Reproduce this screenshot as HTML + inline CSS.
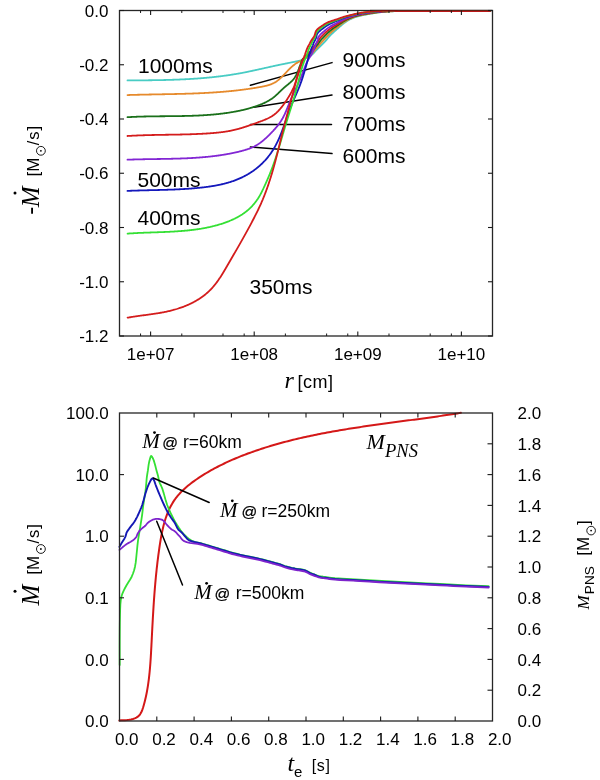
<!DOCTYPE html>
<html><head><meta charset="utf-8"><style>
html,body{margin:0;padding:0;background:#fff;overflow:hidden;width:600px;height:780px;}
svg{display:block;will-change:transform;}
</style></head><body>
<svg width="600" height="780" viewBox="0 0 600 780">
<rect width="600" height="780" fill="#fff"/>
<rect x="119.5" y="10.5" width="373.0" height="325.5" fill="none" stroke="#262626" stroke-width="1.3"/>
<line x1="250.40" y1="85.30" x2="332.00" y2="62.60" stroke="#000" stroke-width="1.5" stroke-linecap="round"/>
<line x1="253.30" y1="107.30" x2="332.00" y2="95.00" stroke="#000" stroke-width="1.5" stroke-linecap="round"/>
<line x1="250.40" y1="124.50" x2="331.50" y2="124.50" stroke="#000" stroke-width="1.5" stroke-linecap="round"/>
<line x1="250.40" y1="147.00" x2="332.00" y2="153.60" stroke="#000" stroke-width="1.5" stroke-linecap="round"/>
<polyline points="127.49,80.43 127.93,80.42 128.37,80.42 128.81,80.42 129.25,80.42 129.68,80.41 130.12,80.41 130.56,80.41 131.00,80.41 131.43,80.40 131.87,80.40 132.31,80.40 132.75,80.40 133.19,80.39 133.62,80.39 134.06,80.39 134.50,80.39 134.94,80.38 135.38,80.38 135.81,80.38 136.25,80.38 136.69,80.37 137.13,80.37 137.57,80.37 138.00,80.36 138.44,80.36 138.88,80.36 139.32,80.36 139.76,80.35 140.20,80.35 140.63,80.35 141.07,80.34 141.51,80.34 141.95,80.34 142.39,80.33 142.83,80.33 143.26,80.32 143.70,80.32 144.14,80.32 144.58,80.31 145.02,80.31 145.45,80.31 145.89,80.30 146.33,80.30 146.77,80.29 147.21,80.29 147.65,80.28 148.09,80.28 148.52,80.27 148.96,80.27 149.40,80.26 149.84,80.26 150.28,80.25 150.72,80.25 151.15,80.24 151.59,80.24 152.03,80.23 152.47,80.22 152.91,80.22 153.35,80.21 153.78,80.21 154.22,80.20 154.66,80.19 155.10,80.19 155.54,80.18 155.98,80.17 156.42,80.17 156.85,80.16 157.29,80.15 157.73,80.14 158.17,80.14 158.61,80.13 159.05,80.12 159.48,80.11 159.92,80.10 160.36,80.09 160.80,80.08 161.24,80.08 161.68,80.07 162.11,80.06 162.55,80.05 162.99,80.04 163.43,80.03 163.87,80.02 164.31,80.01 164.74,80.00 165.18,79.99 165.62,79.98 166.06,79.97 166.50,79.95 166.94,79.94 167.37,79.93 167.81,79.92 168.25,79.91 168.69,79.89 169.13,79.88 169.57,79.87 170.00,79.86 170.44,79.84 170.88,79.83 171.32,79.82 171.76,79.80 172.20,79.79 172.63,79.77 173.07,79.76 173.51,79.75 173.95,79.73 174.39,79.71 174.82,79.70 175.26,79.68 175.70,79.67 176.14,79.65 176.58,79.63 177.01,79.62 177.45,79.60 177.89,79.58 178.33,79.57 178.76,79.55 179.20,79.53 179.64,79.51 180.08,79.49 180.52,79.47 180.95,79.46 181.39,79.44 181.83,79.42 182.27,79.40 182.70,79.38 183.14,79.36 183.58,79.33 184.02,79.31 184.45,79.29 184.89,79.27 185.33,79.25 185.77,79.23 186.20,79.20 186.64,79.18 187.08,79.16 187.52,79.13 187.95,79.11 188.39,79.08 188.83,79.06 189.27,79.03 189.70,79.01 190.14,78.98 190.58,78.96 191.01,78.93 191.45,78.91 191.89,78.88 192.33,78.85 192.76,78.82 193.20,78.80 193.64,78.77 194.07,78.74 194.51,78.71 194.95,78.68 195.38,78.65 195.82,78.62 196.26,78.59 196.69,78.56 197.13,78.53 197.57,78.50 198.00,78.46 198.44,78.43 198.88,78.40 199.31,78.37 199.75,78.33 200.19,78.30 200.62,78.27 201.06,78.23 201.49,78.20 201.93,78.16 202.37,78.13 202.80,78.09 203.24,78.05 203.67,78.02 204.11,77.98 204.55,77.94 204.98,77.90 205.42,77.86 205.85,77.83 206.29,77.79 206.73,77.75 207.16,77.71 207.60,77.67 208.03,77.62 208.47,77.58 208.90,77.54 209.34,77.50 209.77,77.46 210.21,77.41 210.64,77.37 211.08,77.33 211.51,77.28 211.95,77.24 212.38,77.19 212.82,77.15 213.25,77.10 213.69,77.05 214.12,77.01 214.56,76.96 214.99,76.91 215.43,76.86 215.86,76.81 216.30,76.76 216.73,76.71 217.17,76.66 217.60,76.61 218.03,76.56 218.47,76.51 218.90,76.46 219.34,76.40 219.77,76.35 220.21,76.30 220.64,76.24 221.07,76.19 221.51,76.13 221.94,76.08 222.37,76.02 222.81,75.96 223.24,75.91 223.68,75.85 224.11,75.79 224.54,75.73 224.98,75.67 225.41,75.61 225.84,75.55 226.27,75.49 226.71,75.43 227.14,75.37 227.57,75.31 228.01,75.24 228.44,75.18 228.87,75.12 229.31,75.05 229.74,74.99 230.17,74.92 230.60,74.85 231.04,74.79 231.47,74.72 231.90,74.65 232.33,74.58 232.76,74.51 233.20,74.45 233.63,74.38 234.06,74.30 234.49,74.23 234.92,74.16 235.36,74.09 235.79,74.02 236.22,73.94 236.65,73.87 237.08,73.79 237.51,73.72 237.94,73.64 238.37,73.57 238.81,73.49 239.24,73.41 239.67,73.34 240.10,73.26 240.53,73.18 240.96,73.10 241.39,73.02 241.82,72.94 242.25,72.85 242.68,72.77 243.11,72.69 243.54,72.61 243.97,72.52 244.40,72.44 244.83,72.35 245.26,72.27 245.69,72.18 246.12,72.10 246.55,72.01 246.98,71.92 247.41,71.83 247.84,71.75 248.27,71.66 248.70,71.57 249.13,71.48 249.56,71.39 249.99,71.30 250.42,71.21 250.85,71.12 251.28,71.03 251.71,70.93 252.13,70.84 252.56,70.75 252.99,70.66 253.42,70.56 253.85,70.47 254.28,70.38 254.71,70.29 255.14,70.19 255.57,70.10 255.99,70.00 256.42,69.91 256.85,69.81 257.28,69.72 257.71,69.62 258.14,69.53 258.57,69.43 259.00,69.34 259.42,69.24 259.85,69.15 260.28,69.05 260.71,68.96 261.14,68.86 261.57,68.76 261.99,68.67 262.42,68.57 262.85,68.48 263.28,68.38 263.71,68.28 264.14,68.19 264.56,68.09 264.99,67.99 265.42,67.90 265.85,67.80 266.28,67.71 266.71,67.61 267.13,67.51 267.56,67.42 267.99,67.32 268.42,67.23 268.85,67.13 269.28,67.04 269.70,66.94 270.13,66.85 270.56,66.75 270.99,66.66 271.42,66.56 271.85,66.47 272.27,66.37 272.70,66.28 273.13,66.19 273.56,66.09 273.99,66.00 274.42,65.91 274.84,65.82 275.27,65.72 275.70,65.63 276.13,65.54 276.56,65.45 276.99,65.36 277.42,65.27 277.84,65.18 278.27,65.09 278.70,65.00 279.13,64.91 279.56,64.82 279.99,64.73 280.42,64.64 280.85,64.55 281.27,64.46 281.70,64.38 282.13,64.29 282.56,64.20 282.99,64.11 283.42,64.03 283.85,63.94 284.28,63.85 284.71,63.77 285.13,63.68 285.56,63.59 285.99,63.50 286.42,63.42 286.85,63.33 287.28,63.25 287.71,63.16 288.13,63.07 288.56,62.99 288.99,62.90 289.42,62.81 289.85,62.73 290.28,62.64 290.70,62.55 291.13,62.47 291.56,62.38 291.99,62.29 292.42,62.20 292.85,62.12 293.27,62.03 293.70,61.94 294.13,61.85 294.56,61.77 294.98,61.68 295.41,61.59 295.84,61.50 296.27,61.41 296.69,61.32 297.12,61.23 297.55,61.14 297.98,61.05 298.40,60.96 298.83,60.87 299.26,60.78 299.68,60.69 300.11,60.60 300.54,60.51 301.50,59.90 302.51,59.50 303.51,59.10 304.51,58.69 305.50,58.26 306.50,57.84 307.50,57.42 308.49,56.99 309.46,56.51 310.40,55.97 311.29,55.35 312.11,54.64 312.89,53.88 313.63,53.08 314.36,52.28 315.09,51.47 315.84,50.69 316.61,49.92 317.38,49.15 318.14,48.38 318.91,47.61 319.68,46.84 320.45,46.07 321.22,45.30 321.99,44.54 322.73,43.82 323.46,43.10 324.18,42.36 324.89,41.62 325.58,40.86 326.25,40.08 326.92,39.30 327.58,38.51 328.24,37.73 328.91,36.95 329.60,36.19 330.31,35.44 331.03,34.70 331.75,33.97 332.48,33.25 333.22,32.54 333.97,31.83 334.72,31.14 335.49,30.46 336.27,29.78 337.05,29.12 337.83,28.45 338.61,27.77 339.37,27.09 340.14,26.41 340.92,25.73 341.70,25.06 342.49,24.41 343.30,23.77 344.12,23.15 344.94,22.54 345.78,21.94 346.63,21.37 347.50,20.81 348.38,20.28 349.27,19.78 350.18,19.30 351.11,18.85 352.04,18.42 352.98,18.01 353.93,17.62 354.90,17.26 355.87,16.93 356.85,16.63 357.84,16.35 358.83,16.09 359.83,15.84 360.83,15.61 361.84,15.39 362.85,15.18 363.85,14.98 364.86,14.79 365.87,14.60 366.88,14.41 367.89,14.22 368.90,14.04 369.92,13.85 370.93,13.68 371.94,13.50 372.95,13.33 373.97,13.16 374.98,13.00 376.00,12.85 377.02,12.70 378.03,12.55 379.05,12.42 380.07,12.29 381.09,12.17 382.11,12.06 383.14,11.95 384.16,11.85 385.18,11.76 386.21,11.67 387.23,11.59 388.26,11.52 389.28,11.45 390.31,11.39 391.34,11.33 392.36,11.29 393.39,11.25 394.42,11.22 395.44,11.21 396.47,11.19 397.50,11.19 398.53,11.19 399.56,11.19 400.58,11.20 401.61,11.20 402.64,11.20 403.67,11.20 404.69,11.20 405.72,11.19 406.75,11.19 407.78,11.18 408.81,11.17 409.83,11.16 410.86,11.15 411.89,11.14 412.92,11.14 413.94,11.13 414.97,11.12 416.00,11.12 417.03,11.11 418.06,11.11 419.08,11.10 420.11,11.10 421.14,11.10 422.17,11.10 423.19,11.09 424.22,11.09 425.25,11.09 426.28,11.09 427.31,11.09 428.33,11.08 429.36,11.08 430.39,11.08 431.42,11.08 432.44,11.08 433.47,11.08 434.50,11.08 435.53,11.08 436.56,11.08 437.58,11.08 438.61,11.08 439.64,11.08 440.67,11.08 441.69,11.08 442.72,11.08 443.75,11.08 444.78,11.08 445.81,11.08 446.83,11.08 447.86,11.08 448.89,11.08 449.92,11.08 450.94,11.08 451.97,11.08 453.00,11.08 454.03,11.08 455.06,11.08 456.08,11.08 457.11,11.08 458.14,11.09 459.17,11.09 460.19,11.09 461.22,11.09 462.25,11.09 463.28,11.09 464.31,11.09 465.33,11.09 466.36,11.09 467.39,11.09 468.42,11.09 469.44,11.09 470.47,11.09 471.50,11.09 472.53,11.09 473.56,11.09 474.58,11.09 475.61,11.10 476.64,11.10 477.67,11.10 478.69,11.10 479.72,11.10 480.75,11.10 481.78,11.10 482.81,11.10 483.83,11.10 484.86,11.10 485.89,11.10 486.92,11.10 487.94,11.10 488.97,11.10 490.00,11.10" fill="none" stroke="#48ccc4" stroke-width="1.8" stroke-linejoin="round" stroke-linecap="round" />
<polyline points="127.51,95.06 127.97,95.04 128.43,95.03 128.88,95.02 129.34,95.00 129.80,94.99 130.26,94.97 130.71,94.96 131.17,94.95 131.63,94.93 132.09,94.92 132.55,94.91 133.00,94.89 133.46,94.88 133.92,94.87 134.38,94.85 134.84,94.84 135.29,94.83 135.75,94.82 136.21,94.81 136.67,94.79 137.13,94.78 137.58,94.77 138.04,94.76 138.50,94.75 138.96,94.74 139.42,94.73 139.88,94.72 140.33,94.71 140.79,94.69 141.25,94.68 141.71,94.67 142.17,94.66 142.63,94.65 143.09,94.64 143.54,94.63 144.00,94.62 144.46,94.61 144.92,94.60 145.38,94.59 145.84,94.59 146.30,94.58 146.76,94.57 147.21,94.56 147.67,94.55 148.13,94.54 148.59,94.53 149.05,94.52 149.51,94.51 149.97,94.50 150.43,94.49 150.89,94.49 151.34,94.48 151.80,94.47 152.26,94.46 152.72,94.45 153.18,94.44 153.64,94.43 154.10,94.42 154.56,94.42 155.02,94.41 155.48,94.40 155.94,94.39 156.39,94.38 156.85,94.37 157.31,94.37 157.77,94.36 158.23,94.35 158.69,94.34 159.15,94.33 159.61,94.32 160.07,94.32 160.53,94.31 160.99,94.30 161.45,94.29 161.91,94.28 162.37,94.27 162.82,94.26 163.28,94.26 163.74,94.25 164.20,94.24 164.66,94.23 165.12,94.22 165.58,94.21 166.04,94.20 166.50,94.19 166.96,94.19 167.42,94.18 167.88,94.17 168.34,94.16 168.80,94.15 169.26,94.14 169.72,94.13 170.18,94.12 170.64,94.11 171.10,94.10 171.55,94.09 172.01,94.08 172.47,94.07 172.93,94.06 173.39,94.05 173.85,94.04 174.31,94.03 174.77,94.02 175.23,94.01 175.69,94.00 176.15,93.99 176.61,93.98 177.07,93.97 177.53,93.96 177.99,93.95 178.45,93.94 178.91,93.93 179.37,93.91 179.83,93.90 180.29,93.89 180.74,93.88 181.20,93.87 181.66,93.85 182.12,93.84 182.58,93.83 183.04,93.82 183.50,93.80 183.96,93.79 184.42,93.78 184.88,93.76 185.34,93.75 185.80,93.74 186.26,93.72 186.72,93.71 187.18,93.70 187.64,93.68 188.10,93.67 188.56,93.65 189.01,93.64 189.47,93.62 189.93,93.61 190.39,93.59 190.85,93.57 191.31,93.56 191.77,93.54 192.23,93.53 192.69,93.51 193.15,93.49 193.61,93.48 194.07,93.46 194.53,93.44 194.99,93.42 195.44,93.40 195.90,93.39 196.36,93.37 196.82,93.35 197.28,93.33 197.74,93.31 198.20,93.29 198.66,93.27 199.12,93.25 199.58,93.23 200.04,93.21 200.49,93.19 200.95,93.17 201.41,93.15 201.87,93.13 202.33,93.10 202.79,93.08 203.25,93.06 203.71,93.04 204.17,93.01 204.62,92.99 205.08,92.97 205.54,92.94 206.00,92.92 206.46,92.89 206.92,92.87 207.38,92.84 207.84,92.82 208.29,92.79 208.75,92.76 209.21,92.74 209.67,92.71 210.13,92.68 210.59,92.66 211.05,92.63 211.50,92.60 211.96,92.57 212.42,92.54 212.88,92.51 213.34,92.48 213.80,92.45 214.25,92.42 214.71,92.39 215.17,92.36 215.63,92.33 216.09,92.30 216.54,92.27 217.00,92.23 217.46,92.20 217.92,92.17 218.38,92.13 218.83,92.10 219.29,92.07 219.75,92.03 220.21,92.00 220.67,91.96 221.12,91.92 221.58,91.89 222.04,91.85 222.50,91.81 222.95,91.78 223.41,91.74 223.87,91.70 224.33,91.66 224.78,91.62 225.24,91.58 225.70,91.54 226.16,91.50 226.61,91.46 227.07,91.42 227.53,91.38 227.99,91.33 228.44,91.29 228.90,91.25 229.36,91.20 229.81,91.16 230.27,91.11 230.73,91.07 231.18,91.02 231.64,90.98 232.10,90.93 232.55,90.88 233.01,90.83 233.47,90.79 233.92,90.74 234.38,90.69 234.84,90.64 235.29,90.59 235.75,90.54 236.21,90.49 236.66,90.44 237.12,90.38 237.58,90.33 238.03,90.28 238.49,90.23 238.94,90.17 239.40,90.12 239.86,90.06 240.31,90.01 240.77,89.95 241.22,89.89 241.68,89.84 242.14,89.78 242.59,89.72 243.05,89.66 243.50,89.60 243.96,89.54 244.41,89.48 244.87,89.42 245.32,89.36 245.78,89.30 246.23,89.23 246.69,89.17 247.15,89.10 247.60,89.04 248.06,88.98 248.51,88.91 248.97,88.84 249.42,88.78 249.87,88.71 250.33,88.64 250.78,88.57 251.24,88.50 251.69,88.43 252.15,88.36 252.60,88.29 253.06,88.22 253.51,88.15 253.97,88.07 254.42,88.00 254.87,87.93 255.33,87.85 255.78,87.78 256.24,87.70 256.69,87.62 257.14,87.55 257.60,87.47 258.05,87.39 258.50,87.31 258.96,87.23 259.41,87.15 259.86,87.07 260.32,86.99 260.77,86.90 261.22,86.82 261.68,86.74 262.13,86.65 262.58,86.56 263.03,86.47 263.48,86.38 263.93,86.29 264.38,86.19 264.83,86.09 265.27,85.99 265.72,85.88 266.16,85.78 266.60,85.66 267.04,85.55 267.48,85.43 267.92,85.31 268.35,85.18 268.78,85.05 269.21,84.91 269.64,84.77 270.07,84.62 270.49,84.47 270.91,84.31 271.33,84.15 271.74,83.98 272.15,83.80 272.56,83.62 272.97,83.43 273.37,83.24 273.77,83.04 274.16,82.83 274.56,82.61 274.95,82.39 275.33,82.15 275.71,81.92 276.09,81.67 276.46,81.42 276.83,81.16 277.20,80.89 277.57,80.62 277.93,80.35 278.29,80.06 278.64,79.77 279.00,79.48 279.35,79.18 279.70,78.88 280.04,78.58 280.39,78.27 280.73,77.95 281.07,77.63 281.41,77.31 281.74,76.99 282.08,76.66 282.41,76.33 282.74,76.00 283.07,75.67 283.40,75.33 283.73,74.99 284.05,74.65 284.38,74.31 284.70,73.97 285.02,73.63 285.35,73.29 285.67,72.95 285.99,72.61 286.31,72.27 286.63,71.93 286.95,71.59 287.27,71.25 287.59,70.91 287.92,70.57 288.24,70.24 288.56,69.90 288.89,69.57 289.21,69.24 289.54,68.91 289.87,68.59 290.20,68.26 290.53,67.94 290.86,67.63 291.20,67.31 291.53,67.00 291.87,66.69 292.22,66.39 292.56,66.09 292.91,65.79 293.26,65.50 293.61,65.22 293.97,64.93 294.33,64.66 294.69,64.39 295.06,64.12 295.43,63.86 295.81,63.60 296.18,63.35 296.57,63.11 296.96,62.87 297.35,62.64 297.75,62.42 298.15,62.20 298.55,61.99 298.97,61.78 299.39,61.59 299.81,61.40 300.24,61.22 300.67,61.05 301.11,60.88 301.56,60.73 302.39,60.08 303.28,59.57 304.18,59.05 305.06,58.52 305.95,57.98 306.84,57.44 307.73,56.91 308.62,56.37 309.49,55.79 310.35,55.16 311.17,54.46 311.93,53.69 312.65,52.88 313.34,52.03 314.01,51.16 314.69,50.31 315.40,49.48 316.12,48.66 316.84,47.84 317.57,47.02 318.29,46.20 319.00,45.37 319.69,44.54 320.38,43.71 321.06,42.88 321.74,42.12 322.43,41.37 323.14,40.62 323.85,39.88 324.56,39.13 325.25,38.37 325.94,37.61 326.62,36.85 327.31,36.09 328.02,35.35 328.73,34.61 329.46,33.89 330.20,33.18 330.94,32.48 331.70,31.79 332.47,31.11 333.24,30.45 334.03,29.80 334.83,29.16 335.63,28.54 336.44,27.92 337.25,27.30 338.06,26.68 338.86,26.05 339.66,25.41 340.46,24.78 341.27,24.16 342.08,23.55 342.92,22.96 343.76,22.37 344.60,21.80 345.46,21.24 346.33,20.71 347.22,20.19 348.11,19.69 349.02,19.22 349.95,18.77 350.88,18.35 351.82,17.94 352.77,17.56 353.74,17.19 354.71,16.85 355.68,16.54 356.67,16.24 357.66,15.97 358.66,15.72 359.66,15.48 360.66,15.26 361.67,15.05 362.68,14.84 363.69,14.65 364.70,14.46 365.71,14.27 366.73,14.09 367.74,13.92 368.75,13.74 369.77,13.57 370.78,13.41 371.80,13.24 372.81,13.09 373.83,12.93 374.85,12.78 375.87,12.64 376.89,12.50 377.90,12.37 378.93,12.25 379.95,12.13 380.97,12.02 381.99,11.91 383.02,11.81 384.04,11.72 385.07,11.64 386.09,11.56 387.12,11.48 388.15,11.42 389.17,11.36 390.20,11.31 391.23,11.26 392.26,11.23 393.28,11.20 394.31,11.18 395.34,11.17 396.37,11.17 397.40,11.17 398.43,11.17 399.46,11.18 400.49,11.18 401.51,11.19 402.54,11.19 403.57,11.19 404.60,11.19 405.63,11.19 406.66,11.18 407.69,11.17 408.72,11.16 409.75,11.16 410.77,11.15 411.80,11.14 412.83,11.13 413.86,11.13 414.89,11.12 415.92,11.12 416.95,11.11 417.98,11.11 419.01,11.10 420.03,11.10 421.06,11.10 422.09,11.10 423.12,11.09 424.15,11.09 425.18,11.09 426.21,11.09 427.24,11.09 428.27,11.09 429.29,11.09 430.32,11.08 431.35,11.08 432.38,11.08 433.41,11.08 434.44,11.08 435.47,11.08 436.50,11.08 437.53,11.08 438.55,11.08 439.58,11.08 440.61,11.08 441.64,11.08 442.67,11.08 443.70,11.08 444.73,11.08 445.76,11.08 446.79,11.08 447.81,11.08 448.84,11.08 449.87,11.08 450.90,11.08 451.93,11.08 452.96,11.08 453.99,11.09 455.02,11.09 456.05,11.09 457.07,11.09 458.10,11.09 459.13,11.09 460.16,11.09 461.19,11.09 462.22,11.09 463.25,11.09 464.28,11.09 465.31,11.09 466.34,11.09 467.36,11.09 468.39,11.09 469.42,11.09 470.45,11.09 471.48,11.09 472.51,11.09 473.54,11.09 474.57,11.10 475.60,11.10 476.62,11.10 477.65,11.10 478.68,11.10 479.71,11.10 480.74,11.10 481.77,11.10 482.80,11.10 483.83,11.10 484.86,11.10 485.88,11.10 486.91,11.10 487.94,11.10 488.97,11.10 490.00,11.10" fill="none" stroke="#e68a2c" stroke-width="1.8" stroke-linejoin="round" stroke-linecap="round" />
<polyline points="127.50,117.19 127.99,117.16 128.49,117.14 128.99,117.11 129.49,117.08 129.99,117.05 130.48,117.03 130.98,117.00 131.48,116.98 131.98,116.95 132.48,116.93 132.97,116.90 133.47,116.88 133.97,116.86 134.47,116.84 134.97,116.82 135.46,116.80 135.96,116.78 136.46,116.76 136.96,116.74 137.46,116.72 137.96,116.70 138.45,116.68 138.95,116.67 139.45,116.65 139.95,116.64 140.45,116.62 140.95,116.60 141.44,116.59 141.94,116.58 142.44,116.56 142.94,116.55 143.44,116.54 143.94,116.52 144.44,116.51 144.93,116.50 145.43,116.49 145.93,116.48 146.43,116.47 146.93,116.45 147.43,116.44 147.93,116.43 148.42,116.43 148.92,116.42 149.42,116.41 149.92,116.40 150.42,116.39 150.92,116.38 151.42,116.37 151.92,116.37 152.41,116.36 152.91,116.35 153.41,116.35 153.91,116.34 154.41,116.33 154.91,116.33 155.41,116.32 155.91,116.31 156.41,116.31 156.90,116.30 157.40,116.30 157.90,116.29 158.40,116.29 158.90,116.28 159.40,116.28 159.90,116.27 160.40,116.27 160.89,116.26 161.39,116.26 161.89,116.25 162.39,116.25 162.89,116.24 163.39,116.24 163.89,116.24 164.39,116.23 164.89,116.23 165.38,116.22 165.88,116.22 166.38,116.21 166.88,116.21 167.38,116.21 167.88,116.20 168.38,116.20 168.88,116.19 169.37,116.19 169.87,116.18 170.37,116.18 170.87,116.17 171.37,116.17 171.87,116.16 172.37,116.16 172.87,116.15 173.36,116.15 173.86,116.14 174.36,116.14 174.86,116.13 175.36,116.13 175.86,116.12 176.36,116.11 176.85,116.11 177.35,116.10 177.85,116.09 178.35,116.09 178.85,116.08 179.35,116.07 179.85,116.06 180.34,116.06 180.84,116.05 181.34,116.04 181.84,116.03 182.34,116.02 182.84,116.01 183.33,116.00 183.83,115.99 184.33,115.98 184.83,115.97 185.33,115.96 185.82,115.95 186.32,115.94 186.82,115.93 187.32,115.91 187.82,115.90 188.32,115.89 188.81,115.87 189.31,115.86 189.81,115.85 190.31,115.83 190.80,115.81 191.30,115.80 191.80,115.78 192.30,115.77 192.80,115.75 193.29,115.73 193.79,115.71 194.29,115.69 194.79,115.68 195.28,115.66 195.78,115.64 196.28,115.61 196.78,115.59 197.27,115.57 197.77,115.55 198.27,115.53 198.77,115.50 199.26,115.48 199.76,115.45 200.26,115.43 200.75,115.40 201.25,115.38 201.75,115.35 202.25,115.32 202.74,115.29 203.24,115.26 203.74,115.23 204.23,115.20 204.73,115.17 205.23,115.14 205.72,115.11 206.22,115.07 206.72,115.04 207.21,115.01 207.71,114.97 208.20,114.93 208.70,114.90 209.20,114.86 209.69,114.82 210.19,114.78 210.69,114.74 211.18,114.70 211.68,114.66 212.17,114.62 212.67,114.57 213.17,114.53 213.66,114.48 214.16,114.44 214.65,114.39 215.15,114.34 215.64,114.30 216.14,114.25 216.63,114.20 217.13,114.15 217.63,114.09 218.12,114.04 218.62,113.99 219.11,113.93 219.61,113.88 220.10,113.82 220.60,113.76 221.09,113.70 221.59,113.64 222.08,113.58 222.58,113.52 223.07,113.46 223.56,113.39 224.06,113.33 224.55,113.26 225.05,113.20 225.54,113.13 226.04,113.06 226.53,112.99 227.02,112.92 227.52,112.85 228.01,112.77 228.51,112.70 229.00,112.62 229.49,112.55 229.99,112.47 230.48,112.39 230.97,112.31 231.47,112.23 231.96,112.15 232.45,112.06 232.95,111.98 233.44,111.89 233.93,111.81 234.42,111.72 234.92,111.63 235.41,111.54 235.90,111.45 236.39,111.35 236.88,111.26 237.38,111.16 237.87,111.06 238.36,110.96 238.85,110.86 239.34,110.76 239.83,110.66 240.32,110.55 240.81,110.45 241.30,110.34 241.78,110.23 242.27,110.12 242.76,110.01 243.25,109.89 243.73,109.78 244.22,109.66 244.71,109.54 245.19,109.42 245.68,109.30 246.16,109.17 246.64,109.05 247.13,108.92 247.61,108.79 248.09,108.66 248.57,108.53 249.05,108.40 249.53,108.26 250.01,108.12 250.49,107.98 250.97,107.84 251.45,107.70 251.93,107.55 252.40,107.41 252.88,107.26 253.35,107.11 253.83,106.95 254.30,106.80 254.77,106.64 255.24,106.48 255.72,106.32 256.19,106.16 256.66,106.00 257.12,105.83 257.59,105.66 258.06,105.49 258.52,105.32 258.99,105.14 259.45,104.97 259.92,104.79 260.38,104.61 260.84,104.42 261.30,104.24 261.76,104.05 262.22,103.86 262.67,103.66 263.13,103.47 263.58,103.27 264.03,103.06 264.48,102.86 264.93,102.65 265.38,102.44 265.82,102.22 266.26,102.00 266.70,101.78 267.14,101.55 267.57,101.32 268.00,101.08 268.43,100.84 268.86,100.59 269.28,100.35 269.70,100.09 270.12,99.83 270.53,99.57 270.94,99.30 271.35,99.03 271.76,98.75 272.16,98.46 272.55,98.17 272.95,97.88 273.34,97.58 273.72,97.27 274.11,96.96 274.49,96.65 274.86,96.33 275.24,96.01 275.61,95.68 275.98,95.35 276.35,95.02 276.72,94.68 277.09,94.34 277.45,94.00 277.82,93.66 278.18,93.31 278.54,92.97 278.90,92.62 279.26,92.27 279.62,91.92 279.98,91.57 280.35,91.22 280.71,90.87 281.07,90.52 281.43,90.17 281.80,89.82 282.16,89.47 282.53,89.13 282.90,88.78 283.27,88.44 283.64,88.10 284.02,87.76 284.39,87.43 284.77,87.09 285.16,86.76 285.54,86.44 285.93,86.12 286.32,85.79 286.71,85.48 287.10,85.16 287.49,84.84 287.89,84.52 288.28,84.21 288.66,83.89 289.05,83.57 289.43,83.25 289.81,82.93 290.19,82.61 290.56,82.28 290.92,81.95 291.28,81.61 291.64,81.27 291.98,80.93 292.32,80.58 292.65,80.22 292.97,79.86 293.29,79.49 293.59,79.11 293.88,78.72 294.17,78.33 294.44,77.94 294.71,77.53 294.97,77.12 295.23,76.71 295.47,76.29 295.71,75.86 295.95,75.44 296.17,75.00 296.40,74.56 296.61,74.12 296.82,73.67 297.03,73.22 297.23,72.77 297.43,72.31 297.62,71.85 297.81,71.39 298.00,70.93 298.18,70.46 298.36,70.00 298.54,69.53 298.72,69.06 298.89,68.58 299.07,68.11 299.24,67.64 299.41,67.17 299.59,66.69 299.76,66.22 299.93,65.75 300.11,65.28 300.28,64.81 300.46,64.34 300.64,63.87 300.82,63.41 301.00,62.94 301.18,62.48 301.37,62.02 301.56,61.57 301.76,61.12 301.95,60.67 302.16,60.22 302.36,59.78 302.58,59.34 302.80,58.91 303.75,58.43 304.51,57.87 305.26,57.30 306.02,56.72 306.77,56.14 307.53,55.56 308.29,54.99 309.05,54.40 309.80,53.79 310.55,53.14 311.28,52.44 311.97,51.68 312.60,50.88 313.21,50.05 313.80,49.20 314.41,48.37 315.06,47.57 315.72,46.77 316.38,45.98 317.03,45.18 317.69,44.39 318.32,43.58 318.92,42.75 319.49,41.92 320.07,41.09 320.68,40.30 321.34,39.52 322.03,38.76 322.75,38.01 323.46,37.27 324.17,36.53 324.88,35.79 325.60,35.07 326.32,34.34 327.05,33.63 327.79,32.92 328.55,32.23 329.31,31.54 330.08,30.87 330.86,30.22 331.66,29.58 332.47,28.96 333.29,28.37 334.12,27.78 334.95,27.21 335.79,26.64 336.63,26.08 337.47,25.50 338.30,24.93 339.13,24.35 339.96,23.77 340.80,23.20 341.65,22.63 342.51,22.08 343.37,21.54 344.24,21.01 345.12,20.50 346.01,20.00 346.92,19.52 347.83,19.06 348.76,18.63 349.69,18.21 350.64,17.81 351.59,17.43 352.55,17.07 353.52,16.73 354.50,16.41 355.48,16.11 356.47,15.83 357.47,15.57 358.47,15.33 359.47,15.10 360.48,14.88 361.49,14.68 362.50,14.48 363.51,14.29 364.53,14.11 365.54,13.93 366.56,13.76 367.57,13.59 368.59,13.43 369.61,13.27 370.62,13.12 371.64,12.97 372.66,12.82 373.68,12.68 374.70,12.55 375.72,12.42 376.74,12.29 377.77,12.17 378.79,12.06 379.81,11.95 380.84,11.85 381.86,11.75 382.89,11.66 383.92,11.58 384.94,11.50 385.97,11.43 387.00,11.37 388.03,11.31 389.05,11.26 390.08,11.22 391.11,11.19 392.14,11.16 393.17,11.14 394.20,11.13 395.23,11.13 396.26,11.14 397.29,11.14 398.32,11.15 399.35,11.16 400.38,11.17 401.41,11.17 402.44,11.18 403.47,11.18 404.50,11.18 405.53,11.18 406.56,11.17 407.59,11.16 408.62,11.16 409.65,11.15 410.68,11.14 411.71,11.14 412.74,11.13 413.77,11.12 414.80,11.12 415.83,11.11 416.86,11.11 417.89,11.11 418.92,11.10 419.95,11.10 420.98,11.10 422.01,11.10 423.04,11.10 424.07,11.09 425.10,11.09 426.13,11.09 427.16,11.09 428.19,11.09 429.22,11.09 430.25,11.09 431.28,11.09 432.31,11.09 433.34,11.09 434.37,11.09 435.40,11.09 436.43,11.09 437.46,11.09 438.49,11.08 439.52,11.08 440.55,11.08 441.58,11.08 442.61,11.09 443.65,11.09 444.68,11.09 445.71,11.09 446.74,11.09 447.77,11.09 448.80,11.09 449.83,11.09 450.86,11.09 451.89,11.09 452.92,11.09 453.95,11.09 454.98,11.09 456.01,11.09 457.04,11.09 458.07,11.09 459.10,11.09 460.13,11.09 461.16,11.09 462.19,11.09 463.22,11.09 464.25,11.09 465.28,11.09 466.31,11.09 467.34,11.09 468.37,11.09 469.40,11.09 470.43,11.09 471.46,11.10 472.49,11.10 473.52,11.10 474.55,11.10 475.58,11.10 476.61,11.10 477.64,11.10 478.67,11.10 479.70,11.10 480.73,11.10 481.76,11.10 482.79,11.10 483.82,11.10 484.85,11.10 485.88,11.10 486.91,11.10 487.94,11.10 488.97,11.10 490.00,11.10" fill="none" stroke="#1a701a" stroke-width="1.8" stroke-linejoin="round" stroke-linecap="round" />
<polyline points="127.50,136.00 128.04,135.97 128.59,135.94 129.13,135.90 129.68,135.87 130.22,135.84 130.77,135.81 131.31,135.78 131.86,135.75 132.40,135.72 132.95,135.69 133.49,135.66 134.04,135.64 134.58,135.61 135.13,135.58 135.67,135.56 136.22,135.54 136.76,135.51 137.31,135.49 137.85,135.46 138.40,135.44 138.94,135.42 139.49,135.40 140.03,135.38 140.58,135.36 141.12,135.34 141.67,135.32 142.21,135.30 142.76,135.28 143.30,135.26 143.85,135.24 144.39,135.23 144.94,135.21 145.48,135.19 146.03,135.18 146.57,135.16 147.12,135.15 147.66,135.13 148.20,135.12 148.75,135.10 149.29,135.09 149.84,135.07 150.38,135.06 150.93,135.05 151.47,135.04 152.02,135.02 152.56,135.01 153.11,135.00 153.66,134.99 154.20,134.98 154.75,134.96 155.29,134.95 155.84,134.94 156.38,134.93 156.93,134.92 157.47,134.91 158.02,134.90 158.56,134.89 159.11,134.88 159.65,134.87 160.20,134.86 160.74,134.85 161.29,134.84 161.83,134.83 162.38,134.83 162.92,134.82 163.47,134.81 164.01,134.80 164.56,134.79 165.10,134.78 165.65,134.77 166.19,134.76 166.74,134.76 167.28,134.75 167.83,134.74 168.37,134.73 168.92,134.72 169.46,134.71 170.01,134.70 170.55,134.70 171.10,134.69 171.64,134.68 172.19,134.67 172.73,134.66 173.28,134.65 173.82,134.64 174.37,134.63 174.91,134.62 175.46,134.61 176.00,134.60 176.55,134.59 177.09,134.58 177.64,134.57 178.18,134.56 178.73,134.55 179.27,134.54 179.82,134.53 180.36,134.52 180.91,134.51 181.45,134.49 182.00,134.48 182.54,134.47 183.09,134.46 183.63,134.44 184.18,134.43 184.72,134.42 185.27,134.40 185.81,134.39 186.36,134.37 186.90,134.36 187.45,134.34 187.99,134.33 188.54,134.31 189.08,134.30 189.63,134.28 190.17,134.26 190.72,134.24 191.26,134.23 191.81,134.21 192.35,134.19 192.90,134.17 193.44,134.15 193.99,134.13 194.53,134.11 195.08,134.09 195.62,134.07 196.17,134.04 196.71,134.02 197.26,134.00 197.80,133.97 198.35,133.95 198.89,133.92 199.44,133.90 199.98,133.87 200.53,133.85 201.07,133.82 201.62,133.79 202.16,133.76 202.71,133.73 203.25,133.70 203.80,133.67 204.34,133.64 204.89,133.61 205.43,133.58 205.97,133.54 206.52,133.51 207.06,133.48 207.61,133.44 208.15,133.40 208.70,133.37 209.24,133.33 209.79,133.29 210.33,133.25 210.88,133.21 211.42,133.17 211.97,133.13 212.51,133.09 213.06,133.04 213.60,133.00 214.14,132.95 214.69,132.91 215.23,132.86 215.78,132.81 216.32,132.76 216.86,132.71 217.41,132.65 217.95,132.60 218.49,132.54 219.03,132.48 219.58,132.42 220.12,132.36 220.66,132.30 221.20,132.23 221.74,132.17 222.28,132.10 222.82,132.03 223.36,131.96 223.90,131.88 224.44,131.80 224.98,131.72 225.52,131.64 226.05,131.56 226.59,131.47 227.13,131.38 227.66,131.29 228.20,131.20 228.73,131.10 229.27,131.00 229.80,130.90 230.33,130.80 230.87,130.69 231.40,130.58 231.93,130.47 232.46,130.35 232.99,130.24 233.52,130.12 234.05,129.99 234.57,129.87 235.10,129.74 235.63,129.61 236.15,129.48 236.68,129.34 237.21,129.20 237.73,129.06 238.25,128.92 238.78,128.78 239.30,128.63 239.82,128.48 240.35,128.33 240.87,128.18 241.39,128.02 241.91,127.87 242.43,127.71 242.95,127.55 243.47,127.39 243.99,127.22 244.51,127.06 245.03,126.89 245.55,126.72 246.07,126.56 246.59,126.38 247.11,126.21 247.63,126.04 248.14,125.86 248.66,125.69 249.18,125.51 249.70,125.33 250.21,125.15 250.73,124.97 251.25,124.79 251.76,124.61 252.28,124.42 252.80,124.24 253.31,124.05 253.83,123.87 254.35,123.68 254.86,123.49 255.38,123.30 255.90,123.12 256.41,122.93 256.93,122.74 257.45,122.55 257.96,122.36 258.48,122.16 259.00,121.97 259.51,121.78 260.03,121.59 260.55,121.40 261.07,121.21 261.58,121.01 262.10,120.82 262.61,120.62 263.13,120.43 263.64,120.23 264.15,120.03 264.66,119.82 265.17,119.61 265.68,119.40 266.18,119.19 266.68,118.97 267.17,118.75 267.67,118.52 268.16,118.29 268.64,118.05 269.13,117.81 269.60,117.56 270.08,117.30 270.54,117.04 271.01,116.77 271.47,116.50 271.92,116.21 272.36,115.92 272.81,115.63 273.24,115.32 273.67,115.01 274.10,114.69 274.52,114.36 274.93,114.03 275.34,113.69 275.75,113.35 276.15,112.99 276.55,112.64 276.94,112.27 277.32,111.90 277.71,111.53 278.09,111.15 278.46,110.77 278.83,110.38 279.20,109.98 279.56,109.58 279.92,109.18 280.27,108.77 280.62,108.36 280.97,107.94 281.32,107.52 281.66,107.10 282.00,106.67 282.33,106.24 282.66,105.80 282.99,105.36 283.32,104.92 283.64,104.48 283.96,104.04 284.28,103.59 284.60,103.14 284.91,102.68 285.22,102.23 285.53,101.77 285.84,101.32 286.14,100.86 286.45,100.40 286.75,99.94 287.05,99.47 287.34,99.01 287.64,98.55 287.93,98.08 288.22,97.62 288.51,97.15 288.80,96.68 289.08,96.21 289.36,95.74 289.64,95.27 289.91,94.79 290.18,94.32 290.45,93.84 290.72,93.36 290.98,92.88 291.23,92.40 291.49,91.92 291.73,91.44 291.98,90.95 292.22,90.46 292.45,89.97 292.69,89.48 292.91,88.99 293.13,88.49 293.35,88.00 293.56,87.50 293.77,87.00 293.98,86.50 294.18,85.99 294.38,85.49 294.57,84.98 294.76,84.48 294.95,83.97 295.14,83.46 295.32,82.95 295.50,82.43 295.68,81.92 295.85,81.41 296.03,80.89 296.20,80.38 296.37,79.86 296.53,79.35 296.70,78.83 296.87,78.31 297.03,77.79 297.19,77.27 297.36,76.76 297.52,76.24 297.68,75.72 297.84,75.20 298.00,74.68 298.17,74.16 298.33,73.64 298.49,73.12 298.65,72.60 298.82,72.08 298.98,71.56 299.15,71.04 299.31,70.52 299.48,70.01 299.65,69.49 299.82,68.97 300.00,68.46 300.17,67.94 300.35,67.43 300.53,66.92 300.72,66.40 300.90,65.89 301.09,65.38 301.28,64.87 301.48,64.37 301.68,63.86 301.88,63.35 302.09,62.85 302.30,62.35 302.51,61.85 302.73,61.35 302.95,60.85 303.18,60.35 303.41,59.86 303.65,59.37 303.89,58.88 304.14,58.39 304.39,57.90 304.65,57.42 304.92,56.93 305.19,56.45 305.47,55.98 306.08,55.45 306.66,54.90 307.25,54.34 307.83,53.78 308.41,53.22 309.00,52.66 309.60,52.10 310.20,51.54 310.80,50.96 311.40,50.35 312.00,49.71 312.57,49.02 313.09,48.29 313.57,47.54 314.05,46.77 314.55,46.02 315.09,45.30 315.65,44.59 316.21,43.88 316.76,43.17 317.30,42.45 317.82,41.72 318.28,40.96 318.71,40.20 319.14,39.43 319.70,38.60 320.32,37.79 321.00,37.02 321.71,36.27 322.44,35.54 323.16,34.81 323.90,34.10 324.65,33.40 325.40,32.71 326.15,32.03 326.92,31.35 327.69,30.68 328.48,30.02 329.27,29.38 330.08,28.76 330.91,28.16 331.74,27.58 332.59,27.03 333.45,26.49 334.32,25.97 335.18,25.45 336.05,24.93 336.92,24.41 337.78,23.89 338.64,23.36 339.50,22.83 340.37,22.30 341.24,21.78 342.12,21.27 343.01,20.77 343.90,20.28 344.80,19.80 345.71,19.34 346.63,18.90 347.57,18.47 348.51,18.07 349.45,17.68 350.41,17.31 351.38,16.96 352.35,16.62 353.32,16.30 354.31,16.00 355.30,15.72 356.29,15.45 357.29,15.20 358.29,14.96 359.30,14.74 360.31,14.53 361.32,14.33 362.33,14.14 363.35,13.95 364.36,13.78 365.38,13.61 366.40,13.45 367.42,13.29 368.44,13.14 369.46,12.99 370.48,12.85 371.50,12.71 372.52,12.58 373.54,12.45 374.57,12.33 375.59,12.21 376.61,12.10 377.64,11.98 378.66,11.88 379.69,11.78 380.72,11.69 381.74,11.60 382.77,11.52 383.80,11.45 384.83,11.38 385.86,11.32 386.89,11.26 387.91,11.21 388.94,11.17 389.97,11.14 391.01,11.11 392.04,11.10 393.07,11.09 394.10,11.09 395.13,11.10 396.16,11.11 397.19,11.12 398.22,11.13 399.25,11.14 400.28,11.15 401.31,11.16 402.35,11.17 403.38,11.17 404.41,11.17 405.44,11.17 406.47,11.16 407.50,11.16 408.53,11.15 409.56,11.15 410.60,11.14 411.63,11.13 412.66,11.13 413.69,11.12 414.72,11.12 415.75,11.11 416.78,11.11 417.81,11.11 418.85,11.10 419.88,11.10 420.91,11.10 421.94,11.10 422.97,11.10 424.00,11.10 425.03,11.09 426.06,11.09 427.09,11.09 428.13,11.09 429.16,11.09 430.19,11.09 431.22,11.09 432.25,11.09 433.28,11.09 434.31,11.09 435.34,11.09 436.38,11.09 437.41,11.09 438.44,11.09 439.47,11.09 440.50,11.09 441.53,11.09 442.56,11.09 443.59,11.09 444.63,11.09 445.66,11.09 446.69,11.09 447.72,11.09 448.75,11.09 449.78,11.09 450.81,11.09 451.84,11.09 452.88,11.09 453.91,11.09 454.94,11.09 455.97,11.09 457.00,11.09 458.03,11.09 459.06,11.09 460.09,11.09 461.13,11.09 462.16,11.09 463.19,11.09 464.22,11.09 465.25,11.09 466.28,11.09 467.31,11.09 468.34,11.09 469.38,11.10 470.41,11.10 471.44,11.10 472.47,11.10 473.50,11.10 474.53,11.10 475.56,11.10 476.59,11.10 477.63,11.10 478.66,11.10 479.69,11.10 480.72,11.10 481.75,11.10 482.78,11.10 483.81,11.10 484.84,11.10 485.88,11.10 486.91,11.10 487.94,11.10 488.97,11.10 490.00,11.10" fill="none" stroke="#d41c1c" stroke-width="1.8" stroke-linejoin="round" stroke-linecap="round" />
<polyline points="127.49,159.72 128.09,159.69 128.69,159.67 129.28,159.65 129.88,159.62 130.47,159.60 131.07,159.58 131.66,159.56 132.26,159.54 132.85,159.52 133.45,159.50 134.05,159.49 134.64,159.47 135.24,159.45 135.83,159.43 136.43,159.42 137.03,159.40 137.62,159.39 138.22,159.37 138.81,159.36 139.41,159.34 140.01,159.33 140.60,159.31 141.20,159.30 141.79,159.29 142.39,159.28 142.99,159.26 143.58,159.25 144.18,159.24 144.78,159.23 145.37,159.22 145.97,159.21 146.57,159.19 147.16,159.18 147.76,159.17 148.35,159.16 148.95,159.15 149.55,159.14 150.14,159.13 150.74,159.12 151.34,159.11 151.93,159.11 152.53,159.10 153.13,159.09 153.72,159.08 154.32,159.07 154.92,159.06 155.51,159.05 156.11,159.04 156.70,159.03 157.30,159.02 157.90,159.01 158.49,159.01 159.09,159.00 159.69,158.99 160.28,158.98 160.88,158.97 161.48,158.96 162.07,158.95 162.67,158.94 163.26,158.93 163.86,158.92 164.46,158.91 165.05,158.90 165.65,158.89 166.25,158.88 166.84,158.87 167.44,158.85 168.03,158.84 168.63,158.83 169.23,158.82 169.82,158.81 170.42,158.79 171.01,158.78 171.61,158.77 172.21,158.75 172.80,158.74 173.40,158.72 173.99,158.71 174.59,158.69 175.19,158.68 175.78,158.66 176.38,158.65 176.97,158.63 177.57,158.61 178.16,158.59 178.76,158.57 179.35,158.56 179.95,158.54 180.55,158.52 181.14,158.49 181.74,158.47 182.33,158.45 182.93,158.43 183.52,158.41 184.12,158.38 184.71,158.36 185.31,158.33 185.90,158.31 186.50,158.28 187.09,158.25 187.68,158.23 188.28,158.20 188.87,158.17 189.47,158.14 190.06,158.11 190.66,158.08 191.25,158.05 191.84,158.01 192.44,157.98 193.03,157.94 193.63,157.91 194.22,157.87 194.81,157.84 195.41,157.80 196.00,157.76 196.59,157.72 197.19,157.68 197.78,157.64 198.37,157.59 198.97,157.55 199.56,157.51 200.15,157.46 200.75,157.41 201.34,157.37 201.93,157.32 202.52,157.27 203.12,157.22 203.71,157.17 204.30,157.11 204.89,157.06 205.49,157.01 206.08,156.95 206.67,156.89 207.26,156.83 207.85,156.78 208.44,156.71 209.04,156.65 209.63,156.59 210.22,156.53 210.81,156.46 211.40,156.39 211.99,156.33 212.58,156.26 213.17,156.19 213.76,156.11 214.35,156.04 214.94,155.97 215.54,155.89 216.13,155.82 216.72,155.74 217.31,155.66 217.89,155.58 218.48,155.49 219.07,155.41 219.66,155.32 220.25,155.24 220.84,155.15 221.43,155.06 222.02,154.97 222.61,154.88 223.20,154.78 223.78,154.69 224.37,154.59 224.96,154.49 225.55,154.39 226.14,154.29 226.72,154.19 227.31,154.08 227.90,153.97 228.49,153.87 229.07,153.76 229.66,153.64 230.25,153.53 230.83,153.42 231.42,153.30 232.01,153.18 232.59,153.06 233.18,152.94 233.77,152.82 234.35,152.69 234.94,152.57 235.52,152.44 236.11,152.31 236.69,152.17 237.28,152.04 237.86,151.90 238.45,151.77 239.03,151.63 239.62,151.48 240.20,151.34 240.78,151.19 241.36,151.04 241.95,150.89 242.53,150.74 243.11,150.58 243.68,150.42 244.26,150.25 244.84,150.08 245.41,149.91 245.98,149.73 246.55,149.55 247.12,149.37 247.68,149.18 248.25,148.98 248.81,148.78 249.36,148.58 249.92,148.37 250.47,148.15 251.02,147.93 251.57,147.70 252.11,147.46 252.65,147.22 253.18,146.98 253.71,146.72 254.24,146.46 254.76,146.19 255.28,145.92 255.80,145.64 256.31,145.34 256.82,145.05 257.32,144.74 257.82,144.43 258.31,144.11 258.80,143.79 259.29,143.45 259.77,143.12 260.25,142.77 260.72,142.42 261.20,142.07 261.66,141.71 262.13,141.34 262.59,140.97 263.05,140.59 263.51,140.21 263.96,139.83 264.41,139.44 264.86,139.04 265.30,138.65 265.75,138.25 266.19,137.84 266.63,137.43 267.06,137.02 267.50,136.61 267.93,136.19 268.36,135.78 268.79,135.36 269.21,134.93 269.64,134.51 270.06,134.08 270.48,133.65 270.90,133.23 271.32,132.80 271.74,132.36 272.15,131.93 272.56,131.49 272.98,131.06 273.38,130.62 273.79,130.17 274.19,129.73 274.59,129.29 274.99,128.84 275.38,128.39 275.77,127.94 276.16,127.48 276.54,127.03 276.92,126.57 277.30,126.10 277.67,125.64 278.04,125.17 278.40,124.70 278.76,124.23 279.11,123.76 279.46,123.28 279.80,122.80 280.14,122.31 280.47,121.82 280.80,121.33 281.12,120.84 281.43,120.34 281.74,119.83 282.04,119.33 282.34,118.81 282.63,118.30 282.91,117.78 283.19,117.26 283.46,116.74 283.73,116.21 283.99,115.68 284.25,115.15 284.51,114.61 284.76,114.07 285.00,113.53 285.25,112.99 285.49,112.45 285.73,111.90 285.96,111.35 286.19,110.80 286.42,110.25 286.65,109.70 286.88,109.15 287.10,108.60 287.33,108.04 287.55,107.49 287.77,106.93 287.99,106.37 288.21,105.82 288.43,105.26 288.65,104.71 288.87,104.15 289.10,103.60 289.32,103.04 289.54,102.49 289.77,101.93 289.99,101.38 290.22,100.83 290.45,100.28 290.69,99.73 290.92,99.18 291.16,98.63 291.40,98.09 291.64,97.55 291.88,97.00 292.13,96.46 292.37,95.92 292.62,95.38 292.87,94.84 293.12,94.30 293.37,93.77 293.63,93.23 293.88,92.69 294.14,92.16 294.39,91.62 294.65,91.09 294.90,90.55 295.16,90.02 295.42,89.48 295.67,88.95 295.93,88.42 296.19,87.88 296.44,87.35 296.70,86.81 296.95,86.28 297.21,85.74 297.46,85.21 297.71,84.67 297.96,84.13 298.21,83.60 298.46,83.06 298.71,82.52 298.96,81.98 299.20,81.44 299.44,80.90 299.68,80.36 299.92,79.81 300.16,79.27 300.39,78.72 300.62,78.18 300.85,77.63 301.08,77.08 301.30,76.52 301.53,75.97 301.74,75.42 301.96,74.86 302.17,74.30 302.38,73.74 302.59,73.18 302.80,72.62 303.01,72.06 303.22,71.50 303.42,70.94 303.63,70.38 303.84,69.82 304.05,69.26 304.26,68.70 304.47,68.14 304.68,67.58 304.90,67.02 305.12,66.47 305.34,65.92 305.56,65.36 305.79,64.81 306.02,64.27 306.26,63.72 306.50,63.18 306.75,62.64 307.00,62.10 307.26,61.56 307.52,61.03 307.79,60.51 308.07,59.98 308.36,59.46 308.65,58.95 308.95,58.43 309.26,57.93 309.58,57.42 309.90,56.93 310.24,56.43 310.58,55.95 310.94,55.46 311.29,54.85 311.57,54.21 311.85,53.56 312.14,52.91 312.43,52.26 312.73,51.61 313.04,50.97 313.35,50.32 313.67,49.66 314.01,48.99 314.35,48.30 314.68,47.58 314.96,46.82 315.21,46.04 315.45,45.25 315.72,44.48 316.03,43.74 316.37,43.01 316.70,42.28 317.02,41.55 317.34,40.81 317.62,40.05 317.83,39.26 317.99,38.45 318.14,37.65 318.64,36.77 319.22,35.94 319.89,35.15 320.61,34.41 321.34,33.69 322.09,32.98 322.85,32.29 323.62,31.62 324.40,30.96 325.19,30.31 325.98,29.66 326.78,29.02 327.59,28.39 328.41,27.77 329.25,27.19 330.10,26.63 330.97,26.10 331.85,25.60 332.74,25.11 333.63,24.64 334.53,24.17 335.43,23.71 336.33,23.24 337.23,22.77 338.12,22.29 339.01,21.81 339.91,21.33 340.81,20.86 341.71,20.39 342.62,19.94 343.54,19.49 344.46,19.05 345.39,18.63 346.33,18.23 347.28,17.84 348.24,17.47 349.20,17.12 350.17,16.78 351.14,16.45 352.12,16.14 353.11,15.84 354.10,15.56 355.10,15.29 356.10,15.04 357.10,14.80 358.11,14.57 359.12,14.36 360.13,14.15 361.14,13.96 362.16,13.77 363.17,13.59 364.19,13.43 365.21,13.26 366.23,13.11 367.25,12.96 368.27,12.82 369.30,12.69 370.32,12.56 371.34,12.43 372.37,12.32 373.39,12.20 374.42,12.09 375.45,11.99 376.47,11.88 377.50,11.79 378.53,11.69 379.56,11.61 380.58,11.52 381.61,11.45 382.64,11.37 383.67,11.31 384.70,11.25 385.73,11.19 386.76,11.15 387.80,11.11 388.83,11.07 389.86,11.05 390.89,11.04 391.92,11.03 392.95,11.03 393.99,11.04 395.02,11.06 396.05,11.08 397.08,11.09 398.11,11.11 399.15,11.13 400.18,11.14 401.21,11.15 402.24,11.15 403.28,11.16 404.31,11.16 405.34,11.16 406.37,11.15 407.41,11.15 408.44,11.15 409.47,11.14 410.50,11.14 411.54,11.13 412.57,11.12 413.60,11.12 414.63,11.12 415.66,11.11 416.70,11.11 417.73,11.11 418.76,11.10 419.79,11.10 420.83,11.10 421.86,11.10 422.89,11.10 423.92,11.10 424.96,11.10 425.99,11.09 427.02,11.09 428.05,11.09 429.09,11.09 430.12,11.09 431.15,11.09 432.18,11.09 433.22,11.09 434.25,11.09 435.28,11.09 436.31,11.09 437.35,11.09 438.38,11.09 439.41,11.09 440.44,11.09 441.48,11.09 442.51,11.09 443.54,11.09 444.57,11.09 445.61,11.09 446.64,11.09 447.67,11.09 448.70,11.09 449.74,11.09 450.77,11.09 451.80,11.09 452.83,11.09 453.86,11.09 454.90,11.09 455.93,11.09 456.96,11.09 457.99,11.09 459.03,11.09 460.06,11.09 461.09,11.09 462.12,11.09 463.16,11.10 464.19,11.10 465.22,11.10 466.25,11.10 467.29,11.10 468.32,11.10 469.35,11.10 470.38,11.10 471.42,11.10 472.45,11.10 473.48,11.10 474.51,11.10 475.55,11.10 476.58,11.10 477.61,11.10 478.64,11.10 479.68,11.10 480.71,11.10 481.74,11.10 482.77,11.10 483.81,11.10 484.84,11.10 485.87,11.10 486.90,11.10 487.94,11.10 488.97,11.10 490.00,11.10" fill="none" stroke="#8226d4" stroke-width="1.8" stroke-linejoin="round" stroke-linecap="round" />
<polyline points="127.50,190.90 128.15,190.87 128.80,190.84 129.45,190.81 130.10,190.79 130.75,190.76 131.40,190.74 132.05,190.71 132.70,190.69 133.35,190.67 134.00,190.64 134.65,190.62 135.30,190.60 135.95,190.58 136.60,190.56 137.25,190.54 137.90,190.52 138.54,190.50 139.19,190.48 139.84,190.46 140.49,190.44 141.14,190.42 141.79,190.41 142.44,190.39 143.09,190.37 143.74,190.36 144.39,190.34 145.04,190.32 145.69,190.31 146.33,190.29 146.98,190.28 147.63,190.26 148.28,190.24 148.93,190.23 149.58,190.21 150.23,190.20 150.88,190.18 151.52,190.17 152.17,190.15 152.82,190.14 153.47,190.12 154.12,190.11 154.77,190.09 155.41,190.08 156.06,190.06 156.71,190.05 157.36,190.03 158.01,190.01 158.66,190.00 159.30,189.98 159.95,189.97 160.60,189.95 161.25,189.93 161.90,189.91 162.54,189.90 163.19,189.88 163.84,189.86 164.49,189.84 165.14,189.82 165.78,189.80 166.43,189.78 167.08,189.76 167.73,189.74 168.37,189.72 169.02,189.70 169.67,189.68 170.32,189.66 170.96,189.63 171.61,189.61 172.26,189.58 172.91,189.56 173.55,189.53 174.20,189.51 174.85,189.48 175.50,189.45 176.14,189.42 176.79,189.40 177.44,189.37 178.09,189.34 178.73,189.30 179.38,189.27 180.03,189.24 180.67,189.21 181.32,189.17 181.97,189.14 182.62,189.10 183.26,189.06 183.91,189.02 184.56,188.98 185.20,188.94 185.85,188.90 186.50,188.86 187.14,188.82 187.79,188.77 188.44,188.73 189.08,188.68 189.73,188.63 190.38,188.58 191.02,188.54 191.67,188.48 192.32,188.43 192.96,188.38 193.61,188.32 194.26,188.27 194.90,188.21 195.55,188.15 196.20,188.09 196.84,188.03 197.49,187.97 198.14,187.91 198.78,187.84 199.43,187.77 200.08,187.71 200.72,187.64 201.37,187.57 202.02,187.49 202.66,187.42 203.31,187.34 203.95,187.27 204.60,187.19 205.25,187.11 205.89,187.03 206.54,186.94 207.19,186.86 207.83,186.77 208.48,186.68 209.12,186.59 209.77,186.50 210.41,186.40 211.05,186.30 211.70,186.20 212.34,186.10 212.98,186.00 213.63,185.89 214.27,185.78 214.91,185.67 215.55,185.56 216.19,185.44 216.83,185.32 217.47,185.20 218.11,185.07 218.74,184.94 219.38,184.81 220.02,184.68 220.65,184.54 221.28,184.40 221.92,184.25 222.55,184.11 223.18,183.96 223.81,183.80 224.44,183.65 225.07,183.48 225.70,183.32 226.32,183.15 226.95,182.98 227.57,182.81 228.19,182.63 228.81,182.44 229.43,182.26 230.05,182.07 230.67,181.87 231.29,181.67 231.90,181.47 232.51,181.26 233.13,181.05 233.74,180.84 234.34,180.62 234.95,180.39 235.56,180.16 236.16,179.93 236.76,179.69 237.36,179.45 237.96,179.20 238.56,178.95 239.15,178.69 239.75,178.43 240.34,178.17 240.93,177.90 241.52,177.62 242.10,177.34 242.68,177.06 243.26,176.77 243.84,176.47 244.42,176.17 244.99,175.87 245.57,175.56 246.13,175.25 246.70,174.93 247.26,174.61 247.83,174.29 248.38,173.96 248.94,173.62 249.49,173.28 250.04,172.94 250.59,172.59 251.14,172.23 251.68,171.88 252.22,171.51 252.75,171.15 253.28,170.77 253.81,170.40 254.34,170.02 254.86,169.63 255.38,169.24 255.90,168.85 256.41,168.45 256.92,168.05 257.42,167.64 257.92,167.23 258.42,166.81 258.92,166.39 259.41,165.97 259.89,165.54 260.37,165.10 260.85,164.66 261.33,164.22 261.80,163.77 262.27,163.32 262.73,162.86 263.19,162.40 263.64,161.94 264.09,161.47 264.53,161.00 264.98,160.52 265.41,160.04 265.85,159.55 266.27,159.07 266.70,158.57 267.12,158.08 267.53,157.58 267.94,157.07 268.35,156.56 268.75,156.05 269.14,155.54 269.54,155.02 269.92,154.50 270.31,153.97 270.68,153.45 271.06,152.92 271.43,152.38 271.79,151.84 272.15,151.30 272.50,150.76 272.85,150.21 273.19,149.67 273.53,149.11 273.87,148.56 274.19,148.00 274.52,147.44 274.84,146.88 275.15,146.32 275.46,145.75 275.77,145.18 276.07,144.61 276.37,144.03 276.66,143.46 276.95,142.88 277.24,142.30 277.52,141.72 277.80,141.13 278.07,140.55 278.34,139.96 278.61,139.37 278.88,138.78 279.14,138.19 279.40,137.60 279.65,137.00 279.90,136.40 280.15,135.81 280.40,135.21 280.64,134.61 280.88,134.01 281.12,133.40 281.36,132.80 281.59,132.20 281.83,131.59 282.06,130.99 282.28,130.38 282.51,129.77 282.74,129.16 282.96,128.56 283.18,127.95 283.40,127.34 283.62,126.73 283.84,126.12 284.06,125.51 284.27,124.89 284.49,124.28 284.70,123.67 284.92,123.06 285.13,122.45 285.34,121.83 285.56,121.22 285.77,120.61 285.98,119.99 286.19,119.38 286.41,118.77 286.62,118.16 286.83,117.54 287.05,116.93 287.26,116.32 287.48,115.71 287.69,115.09 287.91,114.48 288.13,113.87 288.35,113.26 288.57,112.65 288.79,112.04 289.02,111.44 289.24,110.83 289.47,110.22 289.70,109.61 289.93,109.01 290.16,108.40 290.40,107.80 290.64,107.19 290.88,106.59 291.12,105.99 291.36,105.39 291.61,104.79 291.86,104.19 292.11,103.59 292.36,103.00 292.62,102.40 292.87,101.80 293.13,101.21 293.39,100.61 293.65,100.02 293.91,99.42 294.17,98.83 294.43,98.24 294.69,97.64 294.96,97.05 295.22,96.46 295.48,95.86 295.74,95.27 296.00,94.68 296.26,94.08 296.52,93.49 296.78,92.89 297.04,92.30 297.29,91.70 297.55,91.11 297.80,90.51 298.05,89.91 298.30,89.31 298.55,88.72 298.79,88.12 299.03,87.52 299.27,86.92 299.51,86.31 299.75,85.71 299.98,85.11 300.20,84.50 300.43,83.89 300.65,83.29 300.87,82.68 301.09,82.07 301.31,81.46 301.52,80.85 301.73,80.24 301.94,79.62 302.14,79.01 302.35,78.39 302.55,77.78 302.75,77.16 302.95,76.55 303.14,75.93 303.34,75.31 303.53,74.69 303.72,74.07 303.91,73.45 304.10,72.83 304.28,72.21 304.47,71.59 304.65,70.97 304.83,70.34 305.02,69.72 305.20,69.10 305.38,68.47 305.56,67.85 305.73,67.23 305.91,66.60 306.09,65.98 306.27,65.35 306.44,64.73 306.62,64.10 306.79,63.48 306.97,62.85 307.14,62.22 307.32,61.60 307.49,60.97 307.67,60.35 307.85,59.72 308.02,59.09 308.20,58.47 308.37,57.84 308.55,57.22 308.73,56.59 308.91,55.97 309.25,55.17 309.50,54.34 309.75,53.51 310.01,52.67 310.27,51.84 310.55,51.01 310.83,50.19 311.12,49.37 311.43,48.55 311.78,47.73 312.16,46.93 312.54,46.11 312.88,45.26 313.17,44.39 313.47,43.52 313.80,42.66 314.19,41.84 314.60,41.04 315.01,40.24 315.40,39.42 315.79,38.61 316.12,37.76 316.36,36.87 316.52,35.95 316.68,35.03 317.09,34.10 317.62,33.22 318.26,32.42 318.98,31.67 319.74,30.97 320.51,30.28 321.31,29.63 322.12,29.01 322.95,28.40 323.78,27.79 324.61,27.18 325.44,26.58 326.29,25.99 327.15,25.42 328.02,24.89 328.92,24.39 329.83,23.92 330.76,23.50 331.69,23.08 332.63,22.68 333.58,22.29 334.52,21.91 335.47,21.52 336.41,21.13 337.35,20.73 338.29,20.33 339.23,19.92 340.17,19.51 341.11,19.11 342.06,18.72 343.01,18.33 343.96,17.95 344.93,17.60 345.89,17.25 346.87,16.92 347.84,16.60 348.83,16.29 349.81,15.99 350.81,15.71 351.80,15.43 352.80,15.17 353.80,14.91 354.80,14.67 355.81,14.43 356.82,14.21 357.83,14.00 358.84,13.79 359.86,13.60 360.88,13.41 361.89,13.23 362.91,13.07 363.94,12.91 364.96,12.76 365.98,12.62 367.01,12.48 368.04,12.36 369.06,12.24 370.09,12.14 371.12,12.03 372.15,11.93 373.18,11.84 374.21,11.75 375.24,11.66 376.27,11.58 377.30,11.50 378.33,11.42 379.36,11.35 380.39,11.28 381.42,11.21 382.45,11.15 383.49,11.10 384.52,11.05 385.55,11.01 386.59,10.98 387.62,10.95 388.65,10.93 389.69,10.92 390.72,10.92 391.76,10.93 392.79,10.95 393.82,10.97 394.86,11.00 395.89,11.03 396.92,11.06 397.96,11.08 398.99,11.10 400.03,11.12 401.06,11.13 402.09,11.13 403.13,11.14 404.16,11.14 405.20,11.14 406.23,11.14 407.26,11.14 408.30,11.14 409.33,11.13 410.37,11.13 411.40,11.12 412.44,11.12 413.47,11.12 414.50,11.11 415.54,11.11 416.57,11.11 417.61,11.10 418.64,11.10 419.67,11.10 420.71,11.10 421.74,11.10 422.78,11.10 423.81,11.10 424.85,11.10 425.88,11.10 426.91,11.10 427.95,11.10 428.98,11.10 430.02,11.10 431.05,11.10 432.09,11.10 433.12,11.10 434.15,11.10 435.19,11.10 436.22,11.10 437.26,11.10 438.29,11.10 439.32,11.10 440.36,11.10 441.39,11.10 442.43,11.10 443.46,11.10 444.50,11.10 445.53,11.10 446.56,11.10 447.60,11.10 448.63,11.10 449.67,11.10 450.70,11.10 451.73,11.10 452.77,11.10 453.80,11.10 454.84,11.10 455.87,11.10 456.91,11.10 457.94,11.10 458.97,11.10 460.01,11.10 461.04,11.10 462.08,11.10 463.11,11.10 464.15,11.10 465.18,11.10 466.21,11.10 467.25,11.10 468.28,11.10 469.32,11.10 470.35,11.10 471.38,11.10 472.42,11.10 473.45,11.10 474.49,11.10 475.52,11.10 476.56,11.10 477.59,11.10 478.62,11.10 479.66,11.10 480.69,11.10 481.73,11.10 482.76,11.10 483.79,11.10 484.83,11.10 485.86,11.10 486.90,11.10 487.93,11.10 488.97,11.10 490.00,11.10" fill="none" stroke="#1418bc" stroke-width="1.8" stroke-linejoin="round" stroke-linecap="round" />
<polyline points="127.60,233.61 128.32,233.56 129.05,233.51 129.77,233.46 130.49,233.42 131.22,233.37 131.94,233.32 132.67,233.28 133.39,233.24 134.12,233.20 134.84,233.16 135.57,233.12 136.29,233.08 137.02,233.04 137.75,233.01 138.47,232.97 139.20,232.94 139.93,232.90 140.66,232.87 141.39,232.84 142.11,232.81 142.84,232.78 143.57,232.75 144.30,232.72 145.03,232.69 145.76,232.67 146.49,232.64 147.22,232.61 147.95,232.58 148.68,232.56 149.41,232.53 150.14,232.51 150.87,232.48 151.60,232.46 152.33,232.43 153.06,232.41 153.79,232.38 154.52,232.35 155.25,232.33 155.99,232.30 156.72,232.28 157.45,232.25 158.18,232.23 158.91,232.20 159.64,232.17 160.37,232.15 161.10,232.12 161.84,232.09 162.57,232.06 163.30,232.04 164.03,232.01 164.76,231.98 165.49,231.94 166.22,231.91 166.95,231.88 167.69,231.85 168.42,231.81 169.15,231.78 169.88,231.74 170.61,231.71 171.34,231.67 172.07,231.63 172.80,231.59 173.53,231.55 174.26,231.51 174.99,231.46 175.72,231.42 176.45,231.37 177.18,231.32 177.91,231.27 178.63,231.22 179.36,231.17 180.09,231.12 180.82,231.06 181.55,231.00 182.27,230.95 183.00,230.88 183.73,230.82 184.46,230.76 185.18,230.69 185.91,230.62 186.63,230.55 187.36,230.48 188.08,230.41 188.81,230.33 189.53,230.25 190.26,230.17 190.98,230.09 191.70,230.01 192.43,229.92 193.15,229.83 193.87,229.74 194.59,229.64 195.32,229.55 196.04,229.45 196.76,229.34 197.48,229.24 198.20,229.13 198.91,229.02 199.63,228.91 200.35,228.79 201.07,228.68 201.79,228.55 202.50,228.43 203.22,228.30 203.93,228.17 204.65,228.04 205.36,227.90 206.08,227.76 206.79,227.62 207.50,227.47 208.22,227.32 208.93,227.17 209.64,227.01 210.35,226.86 211.06,226.69 211.77,226.53 212.48,226.36 213.18,226.18 213.89,226.00 214.60,225.82 215.30,225.64 216.01,225.45 216.71,225.26 217.42,225.06 218.12,224.86 218.82,224.66 219.52,224.45 220.22,224.24 220.92,224.02 221.62,223.80 222.32,223.57 223.02,223.35 223.71,223.11 224.41,222.87 225.10,222.63 225.79,222.38 226.48,222.13 227.17,221.87 227.85,221.61 228.53,221.34 229.22,221.07 229.89,220.79 230.57,220.51 231.24,220.22 231.91,219.93 232.58,219.63 233.24,219.32 233.90,219.01 234.56,218.70 235.22,218.37 235.87,218.04 236.51,217.71 237.16,217.37 237.80,217.02 238.43,216.67 239.06,216.31 239.69,215.94 240.31,215.57 240.93,215.19 241.54,214.80 242.15,214.41 242.75,214.00 243.35,213.60 243.95,213.18 244.53,212.76 245.12,212.33 245.69,211.89 246.26,211.45 246.83,211.00 247.39,210.54 247.94,210.07 248.49,209.59 249.03,209.11 249.56,208.62 250.09,208.12 250.61,207.61 251.13,207.09 251.64,206.57 252.14,206.04 252.63,205.50 253.12,204.95 253.60,204.40 254.07,203.84 254.53,203.27 254.99,202.70 255.44,202.12 255.88,201.54 256.32,200.95 256.75,200.35 257.17,199.75 257.58,199.14 257.99,198.53 258.38,197.91 258.77,197.29 259.15,196.67 259.53,196.04 259.89,195.40 260.25,194.77 260.60,194.12 260.94,193.48 261.28,192.83 261.61,192.18 261.93,191.53 262.25,190.88 262.57,190.22 262.88,189.57 263.20,188.91 263.50,188.25 263.81,187.59 264.12,186.93 264.42,186.26 264.73,185.60 265.03,184.94 265.33,184.28 265.64,183.61 265.93,182.95 266.23,182.28 266.53,181.61 266.82,180.95 267.12,180.28 267.41,179.61 267.70,178.94 267.99,178.27 268.28,177.60 268.56,176.93 268.84,176.25 269.13,175.58 269.41,174.91 269.68,174.23 269.96,173.56 270.23,172.88 270.50,172.20 270.77,171.53 271.04,170.85 271.30,170.17 271.57,169.49 271.83,168.81 272.09,168.12 272.34,167.44 272.59,166.76 272.85,166.07 273.09,165.39 273.34,164.70 273.59,164.02 273.83,163.33 274.07,162.64 274.31,161.96 274.55,161.27 274.78,160.58 275.02,159.89 275.25,159.20 275.48,158.50 275.71,157.81 275.94,157.12 276.17,156.43 276.39,155.73 276.61,155.04 276.84,154.35 277.06,153.65 277.28,152.96 277.50,152.26 277.71,151.57 277.93,150.87 278.14,150.17 278.36,149.48 278.57,148.78 278.79,148.08 279.00,147.38 279.21,146.69 279.42,145.99 279.63,145.29 279.84,144.59 280.05,143.89 280.25,143.19 280.46,142.49 280.67,141.79 280.87,141.09 281.08,140.39 281.29,139.69 281.49,138.99 281.70,138.29 281.90,137.59 282.11,136.89 282.31,136.19 282.52,135.49 282.72,134.79 282.93,134.09 283.14,133.39 283.34,132.69 283.55,131.99 283.75,131.30 283.96,130.60 284.17,129.90 284.37,129.20 284.58,128.50 284.79,127.80 285.00,127.10 285.21,126.40 285.42,125.70 285.63,125.01 285.84,124.31 286.06,123.61 286.27,122.92 286.48,122.22 286.70,121.52 286.91,120.83 287.13,120.13 287.35,119.43 287.56,118.74 287.78,118.04 288.00,117.35 288.21,116.65 288.43,115.96 288.65,115.26 288.87,114.57 289.09,113.87 289.31,113.18 289.52,112.48 289.74,111.79 289.96,111.09 290.18,110.40 290.40,109.70 290.61,109.01 290.83,108.31 291.05,107.61 291.26,106.92 291.48,106.22 291.69,105.53 291.91,104.83 292.12,104.14 292.34,103.44 292.55,102.74 292.76,102.05 292.97,101.35 293.18,100.65 293.39,99.95 293.60,99.26 293.81,98.56 294.01,97.86 294.22,97.16 294.42,96.46 294.63,95.76 294.83,95.06 295.03,94.36 295.23,93.66 295.43,92.96 295.62,92.26 295.82,91.55 296.01,90.85 296.20,90.15 296.39,89.44 296.58,88.74 296.77,88.04 296.95,87.33 297.14,86.62 297.32,85.92 297.50,85.21 297.68,84.50 297.85,83.79 298.03,83.09 298.20,82.38 298.38,81.67 298.55,80.96 298.72,80.25 298.89,79.54 299.07,78.83 299.24,78.12 299.42,77.41 299.59,76.70 299.77,76.00 299.95,75.29 300.12,74.58 300.31,73.87 300.49,73.17 300.68,72.46 300.86,71.76 301.06,71.06 301.25,70.35 301.45,69.65 301.65,68.95 301.85,68.26 302.06,67.56 302.28,66.86 302.49,66.17 302.72,65.48 302.95,64.78 303.18,64.10 303.42,63.41 303.66,62.72 303.91,62.04 304.17,61.36 304.43,60.68 304.70,60.00 304.97,59.33 305.26,58.65 305.55,57.98 305.85,57.31 306.15,56.65 306.47,55.99 306.80,55.09 307.09,54.17 307.38,53.26 307.68,52.34 307.99,51.43 308.32,50.52 308.64,49.62 308.99,48.72 309.36,47.83 309.77,46.96 310.23,46.10 310.69,45.24 311.11,44.36 311.50,43.45 311.88,42.55 312.30,41.67 312.78,40.82 313.29,39.99 313.80,39.15 314.29,38.31 314.77,37.46 315.20,36.58 315.50,35.65 315.73,34.69 315.95,33.72 316.31,32.76 316.82,31.87 317.45,31.05 318.17,30.31 318.93,29.61 319.72,28.93 320.53,28.30 321.37,27.70 322.22,27.11 323.07,26.53 323.92,25.95 324.77,25.36 325.64,24.79 326.51,24.25 327.41,23.74 328.33,23.27 329.26,22.84 330.21,22.44 331.17,22.07 332.13,21.71 333.10,21.36 334.07,21.01 335.04,20.66 336.00,20.31 336.97,19.95 337.93,19.58 338.89,19.21 339.85,18.84 340.81,18.47 341.77,18.11 342.74,17.75 343.71,17.41 344.69,17.08 345.67,16.76 346.66,16.45 347.65,16.16 348.64,15.88 349.64,15.60 350.64,15.34 351.64,15.08 352.64,14.83 353.65,14.59 354.65,14.36 355.67,14.13 356.68,13.92 357.69,13.71 358.71,13.51 359.72,13.32 360.74,13.14 361.76,12.97 362.79,12.80 363.81,12.65 364.83,12.50 365.86,12.37 366.89,12.25 367.92,12.13 368.95,12.02 369.97,11.92 371.01,11.83 372.04,11.74 373.07,11.66 374.10,11.57 375.13,11.50 376.16,11.42 377.20,11.35 378.23,11.28 379.26,11.22 380.29,11.15 381.33,11.10 382.36,11.04 383.39,11.00 384.43,10.96 385.46,10.92 386.50,10.89 387.53,10.87 388.57,10.86 389.60,10.86 390.64,10.87 391.67,10.88 392.71,10.91 393.74,10.94 394.78,10.97 395.81,11.01 396.84,11.04 397.88,11.07 398.91,11.09 399.95,11.11 400.98,11.12 402.02,11.12 403.05,11.13 404.09,11.13 405.12,11.14 406.16,11.14 407.19,11.13 408.23,11.13 409.26,11.13 410.30,11.13 411.33,11.12 412.37,11.12 413.40,11.11 414.44,11.11 415.47,11.11 416.51,11.11 417.54,11.10 418.58,11.10 419.61,11.10 420.65,11.10 421.68,11.10 422.72,11.10 423.76,11.10 424.79,11.10 425.83,11.10 426.86,11.10 427.90,11.10 428.93,11.10 429.97,11.10 431.00,11.10 432.04,11.10 433.07,11.10 434.11,11.10 435.14,11.10 436.18,11.10 437.21,11.10 438.25,11.10 439.28,11.10 440.32,11.10 441.35,11.10 442.39,11.10 443.42,11.10 444.46,11.10 445.49,11.10 446.53,11.10 447.56,11.10 448.60,11.10 449.63,11.10 450.67,11.10 451.70,11.10 452.74,11.10 453.77,11.10 454.81,11.10 455.84,11.10 456.88,11.10 457.91,11.10 458.95,11.10 459.98,11.10 461.02,11.10 462.05,11.10 463.09,11.10 464.12,11.10 465.16,11.10 466.19,11.10 467.23,11.10 468.26,11.10 469.30,11.10 470.33,11.10 471.37,11.10 472.40,11.10 473.44,11.10 474.47,11.10 475.51,11.10 476.54,11.10 477.58,11.10 478.61,11.10 479.65,11.10 480.68,11.10 481.72,11.10 482.75,11.10 483.79,11.10 484.82,11.10 485.86,11.10 486.89,11.10 487.93,11.10 488.96,11.10 490.00,11.10" fill="none" stroke="#34e034" stroke-width="1.8" stroke-linejoin="round" stroke-linecap="round" />
<polyline points="127.60,317.69 128.45,317.53 129.30,317.38 130.15,317.24 131.00,317.09 131.85,316.95 132.70,316.82 133.55,316.69 134.40,316.56 135.25,316.43 136.10,316.30 136.95,316.18 137.80,316.06 138.65,315.94 139.51,315.82 140.36,315.71 141.21,315.59 142.06,315.48 142.91,315.36 143.77,315.25 144.62,315.14 145.47,315.02 146.32,314.91 147.17,314.80 148.02,314.68 148.88,314.57 149.73,314.45 150.58,314.34 151.43,314.22 152.28,314.10 153.13,313.98 153.98,313.85 154.83,313.73 155.68,313.60 156.53,313.47 157.38,313.33 158.23,313.19 159.08,313.05 159.93,312.91 160.77,312.76 161.62,312.61 162.47,312.45 163.31,312.29 164.16,312.12 165.00,311.95 165.85,311.78 166.69,311.60 167.53,311.41 168.38,311.22 169.22,311.02 170.06,310.82 170.89,310.62 171.73,310.40 172.57,310.19 173.40,309.96 174.23,309.73 175.06,309.50 175.89,309.25 176.72,309.01 177.54,308.75 178.37,308.49 179.19,308.23 180.01,307.95 180.82,307.67 181.63,307.38 182.45,307.09 183.25,306.79 184.06,306.48 184.86,306.16 185.66,305.84 186.46,305.51 187.25,305.17 188.05,304.83 188.83,304.48 189.62,304.12 190.40,303.75 191.18,303.37 191.95,302.99 192.72,302.59 193.49,302.19 194.25,301.78 195.00,301.37 195.76,300.94 196.50,300.51 197.24,300.07 197.98,299.62 198.71,299.16 199.44,298.69 200.16,298.22 200.87,297.74 201.58,297.25 202.28,296.75 202.97,296.24 203.66,295.73 204.34,295.20 205.01,294.67 205.67,294.13 206.33,293.58 206.98,293.02 207.62,292.46 208.25,291.89 208.88,291.30 209.49,290.71 210.10,290.11 210.70,289.51 211.29,288.89 211.87,288.27 212.44,287.64 213.00,287.00 213.56,286.35 214.11,285.70 214.65,285.04 215.18,284.37 215.71,283.70 216.23,283.02 216.74,282.34 217.25,281.65 217.75,280.95 218.25,280.25 218.74,279.55 219.23,278.84 219.71,278.12 220.19,277.41 220.66,276.68 221.13,275.96 221.59,275.23 222.05,274.50 222.51,273.76 222.97,273.03 223.42,272.29 223.86,271.54 224.31,270.80 224.75,270.05 225.20,269.31 225.64,268.56 226.07,267.81 226.51,267.06 226.95,266.31 227.38,265.56 227.82,264.81 228.25,264.05 228.69,263.30 229.12,262.55 229.55,261.80 229.99,261.05 230.42,260.30 230.85,259.56 231.29,258.81 231.72,258.06 232.15,257.31 232.59,256.56 233.02,255.82 233.45,255.07 233.88,254.32 234.31,253.57 234.74,252.83 235.17,252.08 235.61,251.33 236.04,250.59 236.46,249.84 236.89,249.09 237.32,248.35 237.75,247.60 238.18,246.85 238.61,246.11 239.03,245.36 239.46,244.61 239.88,243.87 240.31,243.12 240.73,242.37 241.16,241.62 241.58,240.88 242.00,240.13 242.42,239.38 242.85,238.63 243.27,237.88 243.69,237.13 244.10,236.38 244.52,235.64 244.94,234.88 245.36,234.13 245.77,233.38 246.19,232.63 246.60,231.88 247.01,231.13 247.43,230.38 247.84,229.62 248.25,228.87 248.66,228.11 249.06,227.36 249.47,226.60 249.88,225.85 250.28,225.09 250.69,224.33 251.09,223.57 251.49,222.81 251.89,222.05 252.29,221.29 252.69,220.53 253.09,219.77 253.49,219.01 253.88,218.24 254.28,217.48 254.67,216.71 255.06,215.95 255.45,215.18 255.84,214.41 256.22,213.64 256.61,212.87 256.99,212.10 257.37,211.33 257.75,210.55 258.12,209.78 258.50,209.00 258.87,208.22 259.23,207.45 259.60,206.66 259.96,205.88 260.32,205.10 260.67,204.32 261.02,203.53 261.37,202.74 261.71,201.95 262.06,201.16 262.39,200.37 262.73,199.58 263.05,198.78 263.38,197.99 263.70,197.19 264.02,196.39 264.34,195.59 264.65,194.79 264.96,193.98 265.27,193.18 265.57,192.38 265.87,191.57 266.17,190.76 266.47,189.96 266.76,189.15 267.05,188.34 267.34,187.53 267.63,186.72 267.91,185.90 268.19,185.09 268.47,184.28 268.74,183.46 269.01,182.65 269.28,181.83 269.55,181.01 269.82,180.19 270.08,179.38 270.34,178.56 270.60,177.74 270.86,176.91 271.11,176.09 271.36,175.27 271.61,174.45 271.86,173.62 272.11,172.80 272.35,171.98 272.59,171.15 272.83,170.32 273.07,169.50 273.31,168.67 273.54,167.84 273.77,167.01 274.01,166.19 274.23,165.36 274.46,164.53 274.69,163.70 274.91,162.87 275.13,162.03 275.35,161.20 275.57,160.37 275.79,159.54 276.01,158.71 276.22,157.87 276.43,157.04 276.65,156.21 276.86,155.37 277.07,154.54 277.28,153.70 277.48,152.87 277.69,152.03 277.90,151.20 278.10,150.36 278.31,149.53 278.51,148.69 278.72,147.86 278.92,147.02 279.12,146.18 279.33,145.35 279.53,144.51 279.73,143.68 279.94,142.84 280.14,142.00 280.34,141.17 280.55,140.33 280.75,139.50 280.95,138.66 281.16,137.83 281.36,136.99 281.57,136.16 281.77,135.32 281.98,134.49 282.19,133.65 282.40,132.82 282.61,131.98 282.82,131.15 283.03,130.32 283.24,129.48 283.46,128.65 283.67,127.82 283.89,126.98 284.10,126.15 284.32,125.32 284.54,124.49 284.75,123.65 284.97,122.82 285.19,121.99 285.41,121.16 285.63,120.33 285.85,119.50 286.07,118.67 286.30,117.84 286.52,117.00 286.74,116.17 286.96,115.34 287.19,114.51 287.41,113.68 287.64,112.85 287.86,112.02 288.08,111.19 288.31,110.36 288.53,109.53 288.76,108.70 288.98,107.87 289.21,107.04 289.43,106.21 289.66,105.38 289.88,104.55 290.11,103.72 290.33,102.89 290.56,102.06 290.78,101.23 291.00,100.39 291.23,99.56 291.45,98.73 291.67,97.90 291.90,97.07 292.12,96.24 292.34,95.41 292.56,94.58 292.78,93.74 293.01,92.91 293.23,92.08 293.45,91.25 293.66,90.42 293.88,89.58 294.10,88.75 294.32,87.92 294.53,87.08 294.75,86.25 294.96,85.42 295.18,84.58 295.39,83.75 295.61,82.92 295.82,82.08 296.04,81.25 296.25,80.41 296.47,79.58 296.69,78.75 296.91,77.92 297.13,77.09 297.35,76.26 297.58,75.43 297.81,74.60 298.04,73.77 298.27,72.94 298.51,72.12 298.76,71.29 299.00,70.47 299.25,69.65 299.51,68.83 299.77,68.01 300.04,67.19 300.31,66.38 300.58,65.56 300.87,64.75 301.16,63.94 301.45,63.14 301.76,62.33 302.07,61.53 302.39,60.73 302.71,59.93 303.04,59.14 303.39,58.34 303.74,57.55 304.10,56.77 304.46,55.98 304.83,55.02 305.16,54.03 305.48,53.05 305.82,52.07 306.17,51.10 306.52,50.12 306.89,49.16 307.27,48.19 307.69,47.24 308.15,46.32 308.67,45.42 309.20,44.53 309.69,43.62 310.14,42.69 310.60,41.76 311.09,40.85 311.65,39.98 312.24,39.12 312.82,38.27 313.39,37.40 313.95,36.53 314.44,35.62 314.81,34.65 315.08,33.65 315.35,32.65 315.68,31.67 316.16,30.76 316.78,29.93 317.51,29.19 318.28,28.50 319.07,27.83 319.90,27.22 320.76,26.63 321.63,26.06 322.50,25.50 323.36,24.93 324.23,24.36 325.10,23.81 325.99,23.28 326.91,22.80 327.84,22.35 328.80,21.95 329.77,21.58 330.74,21.24 331.72,20.91 332.71,20.59 333.70,20.27 334.68,19.96 335.67,19.64 336.65,19.32 337.63,18.98 338.61,18.63 339.59,18.29 340.56,17.95 341.54,17.61 342.52,17.28 343.51,16.96 344.50,16.65 345.49,16.36 346.49,16.08 347.49,15.80 348.49,15.54 349.49,15.28 350.50,15.03 351.50,14.79 352.51,14.55 353.52,14.32 354.53,14.10 355.55,13.89 356.56,13.68 357.58,13.48 358.60,13.28 359.61,13.09 360.63,12.92 361.66,12.75 362.68,12.59 363.71,12.44 364.73,12.30 365.76,12.17 366.79,12.05 367.82,11.94 368.85,11.84 369.88,11.75 370.91,11.66 371.95,11.58 372.98,11.51 374.01,11.43 375.05,11.36 376.08,11.30 377.11,11.23 378.15,11.17 379.18,11.11 380.21,11.05 381.25,11.00 382.28,10.95 383.32,10.91 384.35,10.88 385.39,10.85 386.42,10.82 387.46,10.81 388.50,10.80 389.53,10.81 390.57,10.82 391.60,10.84 392.64,10.88 393.67,10.91 394.71,10.95 395.74,10.99 396.78,11.02 397.81,11.06 398.85,11.08 399.89,11.10 400.92,11.11 401.96,11.12 402.99,11.13 404.03,11.13 405.06,11.13 406.10,11.13 407.14,11.13 408.17,11.13 409.21,11.13 410.24,11.12 411.28,11.12 412.32,11.12 413.35,11.11 414.39,11.11 415.42,11.11 416.46,11.10 417.49,11.10 418.53,11.10 419.57,11.10 420.60,11.10 421.64,11.10 422.67,11.10 423.71,11.10 424.74,11.10 425.78,11.10 426.82,11.10 427.85,11.10 428.89,11.10 429.92,11.10 430.96,11.10 432.00,11.10 433.03,11.10 434.07,11.10 435.10,11.10 436.14,11.10 437.17,11.10 438.21,11.10 439.25,11.10 440.28,11.10 441.32,11.10 442.35,11.10 443.39,11.10 444.42,11.10 445.46,11.10 446.50,11.10 447.53,11.10 448.57,11.10 449.60,11.10 450.64,11.10 451.68,11.10 452.71,11.10 453.75,11.10 454.78,11.10 455.82,11.10 456.85,11.10 457.89,11.10 458.93,11.10 459.96,11.10 461.00,11.10 462.03,11.10 463.07,11.10 464.11,11.10 465.14,11.10 466.18,11.10 467.21,11.10 468.25,11.10 469.28,11.10 470.32,11.10 471.36,11.10 472.39,11.10 473.43,11.10 474.46,11.10 475.50,11.10 476.53,11.10 477.57,11.10 478.61,11.10 479.64,11.10 480.68,11.10 481.71,11.10 482.75,11.10 483.79,11.10 484.82,11.10 485.86,11.10 486.89,11.10 487.93,11.10 488.96,11.10 490.00,11.10" fill="none" stroke="#d41c1c" stroke-width="1.8" stroke-linejoin="round" stroke-linecap="round" />
<line x1="370" y1="10.5" x2="492.5" y2="10.5" stroke="#000" stroke-opacity="0.45" stroke-width="1.3"/>
<line x1="119.50" y1="10.50" x2="124.00" y2="10.50" stroke="#1a1a1a" stroke-width="1.1" stroke-linecap="butt"/>
<line x1="492.50" y1="10.50" x2="488.00" y2="10.50" stroke="#1a1a1a" stroke-width="1.1" stroke-linecap="butt"/>
<text x="108.50" y="16.60" font-family="Liberation Sans" font-size="17" text-anchor="end" >0.0</text>
<line x1="119.50" y1="64.75" x2="124.00" y2="64.75" stroke="#1a1a1a" stroke-width="1.1" stroke-linecap="butt"/>
<line x1="492.50" y1="64.75" x2="488.00" y2="64.75" stroke="#1a1a1a" stroke-width="1.1" stroke-linecap="butt"/>
<text x="108.50" y="70.85" font-family="Liberation Sans" font-size="17" text-anchor="end" >-0.2</text>
<line x1="119.50" y1="119.00" x2="124.00" y2="119.00" stroke="#1a1a1a" stroke-width="1.1" stroke-linecap="butt"/>
<line x1="492.50" y1="119.00" x2="488.00" y2="119.00" stroke="#1a1a1a" stroke-width="1.1" stroke-linecap="butt"/>
<text x="108.50" y="125.10" font-family="Liberation Sans" font-size="17" text-anchor="end" >-0.4</text>
<line x1="119.50" y1="173.25" x2="124.00" y2="173.25" stroke="#1a1a1a" stroke-width="1.1" stroke-linecap="butt"/>
<line x1="492.50" y1="173.25" x2="488.00" y2="173.25" stroke="#1a1a1a" stroke-width="1.1" stroke-linecap="butt"/>
<text x="108.50" y="179.35" font-family="Liberation Sans" font-size="17" text-anchor="end" >-0.6</text>
<line x1="119.50" y1="227.50" x2="124.00" y2="227.50" stroke="#1a1a1a" stroke-width="1.1" stroke-linecap="butt"/>
<line x1="492.50" y1="227.50" x2="488.00" y2="227.50" stroke="#1a1a1a" stroke-width="1.1" stroke-linecap="butt"/>
<text x="108.50" y="233.60" font-family="Liberation Sans" font-size="17" text-anchor="end" >-0.8</text>
<line x1="119.50" y1="281.75" x2="124.00" y2="281.75" stroke="#1a1a1a" stroke-width="1.1" stroke-linecap="butt"/>
<line x1="492.50" y1="281.75" x2="488.00" y2="281.75" stroke="#1a1a1a" stroke-width="1.1" stroke-linecap="butt"/>
<text x="108.50" y="287.85" font-family="Liberation Sans" font-size="17" text-anchor="end" >-1.0</text>
<line x1="119.50" y1="336.00" x2="124.00" y2="336.00" stroke="#1a1a1a" stroke-width="1.1" stroke-linecap="butt"/>
<line x1="492.50" y1="336.00" x2="488.00" y2="336.00" stroke="#1a1a1a" stroke-width="1.1" stroke-linecap="butt"/>
<text x="108.50" y="342.10" font-family="Liberation Sans" font-size="17" text-anchor="end" >-1.2</text>
<line x1="150.60" y1="336.00" x2="150.60" y2="331.50" stroke="#1a1a1a" stroke-width="1.1" stroke-linecap="butt"/>
<line x1="150.60" y1="10.50" x2="150.60" y2="15.00" stroke="#1a1a1a" stroke-width="1.1" stroke-linecap="butt"/>
<text x="150.60" y="359.70" font-family="Liberation Sans" font-size="17" text-anchor="middle" >1e+07</text>
<line x1="254.20" y1="336.00" x2="254.20" y2="331.50" stroke="#1a1a1a" stroke-width="1.1" stroke-linecap="butt"/>
<line x1="254.20" y1="10.50" x2="254.20" y2="15.00" stroke="#1a1a1a" stroke-width="1.1" stroke-linecap="butt"/>
<text x="254.20" y="359.70" font-family="Liberation Sans" font-size="17" text-anchor="middle" >1e+08</text>
<line x1="357.80" y1="336.00" x2="357.80" y2="331.50" stroke="#1a1a1a" stroke-width="1.1" stroke-linecap="butt"/>
<line x1="357.80" y1="10.50" x2="357.80" y2="15.00" stroke="#1a1a1a" stroke-width="1.1" stroke-linecap="butt"/>
<text x="357.80" y="359.70" font-family="Liberation Sans" font-size="17" text-anchor="middle" >1e+09</text>
<line x1="461.40" y1="336.00" x2="461.40" y2="331.50" stroke="#1a1a1a" stroke-width="1.1" stroke-linecap="butt"/>
<line x1="461.40" y1="10.50" x2="461.40" y2="15.00" stroke="#1a1a1a" stroke-width="1.1" stroke-linecap="butt"/>
<text x="461.40" y="359.70" font-family="Liberation Sans" font-size="17" text-anchor="middle" >1e+10</text>
<line x1="140.56" y1="336.00" x2="140.56" y2="333.50" stroke="#1a1a1a" stroke-width="1.0" stroke-linecap="butt"/>
<line x1="140.56" y1="10.50" x2="140.56" y2="13.00" stroke="#1a1a1a" stroke-width="1.0" stroke-linecap="butt"/>
<line x1="181.79" y1="336.00" x2="181.79" y2="333.50" stroke="#1a1a1a" stroke-width="1.0" stroke-linecap="butt"/>
<line x1="181.79" y1="10.50" x2="181.79" y2="13.00" stroke="#1a1a1a" stroke-width="1.0" stroke-linecap="butt"/>
<line x1="223.01" y1="336.00" x2="223.01" y2="333.50" stroke="#1a1a1a" stroke-width="1.0" stroke-linecap="butt"/>
<line x1="223.01" y1="10.50" x2="223.01" y2="13.00" stroke="#1a1a1a" stroke-width="1.0" stroke-linecap="butt"/>
<line x1="244.16" y1="336.00" x2="244.16" y2="333.50" stroke="#1a1a1a" stroke-width="1.0" stroke-linecap="butt"/>
<line x1="244.16" y1="10.50" x2="244.16" y2="13.00" stroke="#1a1a1a" stroke-width="1.0" stroke-linecap="butt"/>
<line x1="285.39" y1="336.00" x2="285.39" y2="333.50" stroke="#1a1a1a" stroke-width="1.0" stroke-linecap="butt"/>
<line x1="285.39" y1="10.50" x2="285.39" y2="13.00" stroke="#1a1a1a" stroke-width="1.0" stroke-linecap="butt"/>
<line x1="326.61" y1="336.00" x2="326.61" y2="333.50" stroke="#1a1a1a" stroke-width="1.0" stroke-linecap="butt"/>
<line x1="326.61" y1="10.50" x2="326.61" y2="13.00" stroke="#1a1a1a" stroke-width="1.0" stroke-linecap="butt"/>
<line x1="347.76" y1="336.00" x2="347.76" y2="333.50" stroke="#1a1a1a" stroke-width="1.0" stroke-linecap="butt"/>
<line x1="347.76" y1="10.50" x2="347.76" y2="13.00" stroke="#1a1a1a" stroke-width="1.0" stroke-linecap="butt"/>
<line x1="388.99" y1="336.00" x2="388.99" y2="333.50" stroke="#1a1a1a" stroke-width="1.0" stroke-linecap="butt"/>
<line x1="388.99" y1="10.50" x2="388.99" y2="13.00" stroke="#1a1a1a" stroke-width="1.0" stroke-linecap="butt"/>
<line x1="430.21" y1="336.00" x2="430.21" y2="333.50" stroke="#1a1a1a" stroke-width="1.0" stroke-linecap="butt"/>
<line x1="430.21" y1="10.50" x2="430.21" y2="13.00" stroke="#1a1a1a" stroke-width="1.0" stroke-linecap="butt"/>
<line x1="451.36" y1="336.00" x2="451.36" y2="333.50" stroke="#1a1a1a" stroke-width="1.0" stroke-linecap="butt"/>
<line x1="451.36" y1="10.50" x2="451.36" y2="13.00" stroke="#1a1a1a" stroke-width="1.0" stroke-linecap="butt"/>
<text x="138.00" y="72.80" font-family="Liberation Sans" font-size="21" text-anchor="start" >1000ms</text>
<text x="342.50" y="66.60" font-family="Liberation Sans" font-size="21" text-anchor="start" >900ms</text>
<text x="342.50" y="98.80" font-family="Liberation Sans" font-size="21" text-anchor="start" >800ms</text>
<text x="342.50" y="131.40" font-family="Liberation Sans" font-size="21" text-anchor="start" >700ms</text>
<text x="342.50" y="163.20" font-family="Liberation Sans" font-size="21" text-anchor="start" >600ms</text>
<text x="137.50" y="186.60" font-family="Liberation Sans" font-size="21" text-anchor="start" >500ms</text>
<text x="137.50" y="225.40" font-family="Liberation Sans" font-size="21" text-anchor="start" >400ms</text>
<text x="249.50" y="294.00" font-family="Liberation Sans" font-size="21" text-anchor="start" >350ms</text>
<text x="284.50" y="388.00" font-family="Liberation Serif" font-size="24" text-anchor="start" font-style="italic" >r</text>
<text x="297.50" y="388.30" font-family="Liberation Sans" font-size="18" text-anchor="start" letter-spacing="0.5">[cm]</text>
<g transform="translate(39,0.00) rotate(-90)">
<text x="-214.80" y="-1.00" font-family="Liberation Sans" font-size="24" text-anchor="start" >-</text>
<text x="-207.30" y="0.00" font-family="Liberation Serif" font-size="25" text-anchor="start" font-style="italic" >M</text>
<text x="-176.50" y="0.00" font-family="Liberation Sans" font-size="17" text-anchor="start" >[M</text>
<text x="-145.30" y="0.00" font-family="Liberation Sans" font-size="16.5" text-anchor="start" letter-spacing="1">/s]</text>
</g>
<circle cx="15" cy="193.10" r="1.5" fill="#000"/>
<circle cx="40.9" cy="150.80" r="4.4" fill="none" stroke="#000" stroke-width="0.9"/>
<circle cx="40.9" cy="150.80" r="0.9" fill="#000"/>
<polyline points="119.34,720.41 121.07,720.35 122.94,720.28 124.91,720.17 126.94,720.01 128.97,719.77 130.98,719.44 132.91,718.98 134.72,718.39 136.37,717.63 137.83,716.68 139.06,715.55 140.11,714.26 140.99,712.83 141.74,711.29 142.38,709.66 142.95,707.98 143.47,706.27 143.96,704.54 144.43,702.80 144.88,701.06 145.30,699.30 145.71,697.54 146.09,695.77 146.46,694.00 146.81,692.22 147.14,690.43 147.45,688.63 147.74,686.83 148.02,685.03 148.29,683.22 148.54,681.40 148.77,679.58 148.99,677.76 149.20,675.93 149.40,674.10 149.59,672.26 149.76,670.42 149.93,668.58 150.08,666.74 150.23,664.90 150.37,663.05 150.50,661.21 150.63,659.36 150.75,657.52 150.86,655.67 150.97,653.82 151.07,651.97 151.17,650.13 151.27,648.29 151.37,646.44 151.46,644.60 151.56,642.76 151.65,640.93 151.74,639.09 151.83,637.26 151.93,635.43 152.02,633.61 152.11,631.78 152.21,629.96 152.30,628.14 152.40,626.32 152.50,624.50 152.60,622.69 152.70,620.87 152.80,619.06 152.90,617.25 153.00,615.44 153.11,613.63 153.22,611.82 153.33,610.01 153.44,608.21 153.55,606.40 153.67,604.60 153.79,602.79 153.91,600.99 154.04,599.18 154.17,597.38 154.30,595.57 154.43,593.77 154.57,591.96 154.72,590.16 154.86,588.35 155.01,586.55 155.17,584.74 155.32,582.93 155.49,581.13 155.65,579.32 155.82,577.51 156.00,575.70 156.18,573.89 156.37,572.07 156.56,570.26 156.75,568.44 156.96,566.62 157.16,564.81 157.38,562.98 157.59,561.16 157.82,559.34 158.05,557.51 158.29,555.68 158.53,553.85 158.78,552.02 159.04,550.18 159.30,548.34 159.57,546.50 159.85,544.65 160.13,542.81 160.43,540.97 160.74,539.12 161.06,537.28 161.40,535.45 161.76,533.61 162.13,531.79 162.52,529.97 162.93,528.16 163.37,526.36 163.83,524.58 164.31,522.80 164.82,521.04 165.36,519.29 165.93,517.56 166.53,515.85 167.16,514.15 167.83,512.47 168.53,510.82 169.27,509.18 170.04,507.57 170.86,505.99 171.72,504.43 172.62,502.89 173.56,501.39 174.55,499.91 175.59,498.46 176.67,497.05 177.80,495.66 178.97,494.31 180.19,492.98 181.44,491.68 182.72,490.40 184.04,489.16 185.39,487.93 186.77,486.73 188.18,485.56 189.62,484.41 191.07,483.28 192.55,482.17 194.05,481.08 195.56,480.01 197.08,478.96 198.62,477.92 200.17,476.91 201.73,475.91 203.29,474.92 204.86,473.95 206.44,473.00 208.02,472.06 209.62,471.14 211.22,470.23 212.82,469.34 214.43,468.46 216.05,467.60 217.68,466.75 219.31,465.91 220.95,465.09 222.59,464.28 224.24,463.48 225.89,462.70 227.55,461.93 229.21,461.17 230.88,460.42 232.55,459.68 234.23,458.96 235.92,458.25 237.60,457.55 239.29,456.86 240.99,456.18 242.69,455.51 244.39,454.85 246.10,454.20 247.81,453.56 249.52,452.94 251.24,452.32 252.96,451.71 254.68,451.10 256.40,450.51 258.13,449.93 259.86,449.35 261.59,448.78 263.33,448.22 265.06,447.67 266.80,447.12 268.54,446.59 270.29,446.06 272.03,445.54 273.78,445.02 275.53,444.52 277.28,444.02 279.04,443.52 280.79,443.04 282.55,442.56 284.31,442.09 286.07,441.63 287.84,441.17 289.60,440.72 291.37,440.27 293.14,439.83 294.91,439.40 296.68,438.97 298.46,438.55 300.23,438.14 302.01,437.73 303.79,437.33 305.57,436.93 307.35,436.54 309.14,436.16 310.92,435.78 312.71,435.40 314.50,435.03 316.29,434.67 318.08,434.31 319.87,433.95 321.67,433.60 323.46,433.25 325.26,432.91 327.05,432.57 328.85,432.24 330.65,431.91 332.45,431.59 334.25,431.27 336.05,430.95 337.86,430.64 339.66,430.33 341.47,430.03 343.27,429.73 345.08,429.43 346.89,429.13 348.70,428.84 350.50,428.55 352.31,428.27 354.13,427.98 355.94,427.70 357.75,427.43 359.56,427.15 361.37,426.88 363.19,426.61 365.00,426.34 366.81,426.08 368.63,425.82 370.44,425.56 372.26,425.30 374.07,425.04 375.89,424.78 377.71,424.53 379.52,424.28 381.34,424.03 383.15,423.78 384.97,423.53 386.79,423.28 388.60,423.04 390.42,422.79 392.24,422.55 394.05,422.30 395.87,422.06 397.69,421.82 399.50,421.57 401.32,421.33 403.13,421.09 404.95,420.85 406.76,420.61 408.58,420.36 410.39,420.12 412.21,419.88 414.02,419.64 415.83,419.39 417.65,419.15 419.46,418.90 421.27,418.66 423.08,418.41 424.89,418.16 426.70,417.92 428.51,417.67 430.32,417.41 432.12,417.16 433.93,416.91 435.74,416.65 437.54,416.39 439.34,416.13 441.15,415.87 442.95,415.61 444.75,415.34 446.55,415.08 448.35,414.81 450.15,414.53 451.94,414.26 453.74,413.98 455.53,413.70 457.33,413.42 459.12,413.13 460.91,412.84" fill="none" stroke="#d41818" stroke-width="2.0" stroke-linejoin="round" stroke-linecap="round" />
<polyline points="119.70,665.00 119.69,656.67 119.68,648.33 119.70,640.00 119.75,631.43 119.83,622.86 120.00,615.00 120.15,609.49 120.36,604.41 120.80,600.00 121.23,597.57 121.77,595.46 122.50,593.30 123.70,590.57 125.16,587.78 126.70,585.00 128.38,582.27 130.14,579.55 131.70,576.70 133.01,573.51 134.11,570.16 135.00,566.70 135.66,562.93 136.09,559.03 136.50,555.00 136.99,550.28 137.45,545.39 138.00,540.60 138.65,536.27 139.38,532.04 140.10,527.80 140.80,523.48 141.49,519.15 142.10,515.00 142.52,511.64 142.88,508.42 143.30,505.00 144.02,500.29 144.83,495.31 145.50,490.80 145.82,488.00 146.07,485.46 146.30,483.00 146.49,480.82 146.67,478.70 146.90,476.60 147.21,474.52 147.57,472.46 147.90,470.40 148.16,468.34 148.41,466.28 148.70,464.30 149.02,462.59 149.38,460.94 149.80,459.40 150.21,457.94 150.67,456.55 151.20,455.90 151.84,456.41 152.55,457.64 153.20,459.00 153.84,460.63 154.38,462.44 154.90,464.30 155.45,466.30 155.97,468.35 156.50,470.40 157.08,472.49 157.67,474.58 158.20,476.60 158.52,478.25 158.79,479.84 159.20,481.50 160.05,483.58 161.11,485.76 162.20,488.30 163.77,493.38 165.39,499.31 167.20,505.00 169.11,509.73 171.17,514.27 173.30,518.50 175.17,521.89 177.08,525.06 179.00,528.00 180.58,530.30 182.16,532.44 184.00,534.50 186.58,536.97 189.49,539.35 192.50,541.20 195.21,542.12 198.01,542.64 200.80,543.20 203.60,544.00 206.40,544.85 209.20,545.70 211.97,546.53 214.74,547.37 217.50,548.20 220.37,549.06 223.24,549.93 225.80,550.70 227.24,551.15 228.52,551.56 230.00,552.00 233.01,552.83 236.50,553.74 240.00,554.60 243.33,555.34 246.66,556.02 250.00,556.70 253.34,557.38 256.67,558.06 260.00,558.80 263.47,559.66 266.92,560.57 270.00,561.40 271.80,561.89 273.40,562.35 275.00,562.80 276.67,563.25 278.34,563.71 280.00,564.20 281.60,564.77 283.20,565.39 285.00,566.00 288.20,566.90 291.78,567.80 295.00,568.50 296.79,568.79 298.40,568.98 300.00,569.20 301.68,569.46 303.35,569.76 305.00,570.20 306.68,570.94 308.34,571.85 310.00,572.70 311.66,573.42 313.32,574.09 315.00,574.70 316.66,575.26 318.32,575.77 320.00,576.20 321.60,576.51 323.20,576.76 325.00,577.00 327.91,577.40 331.20,577.81 335.00,578.20 342.28,578.73 350.81,579.20 360.00,579.70 372.64,580.45 386.32,581.25 400.00,582.00 413.65,582.67 427.30,583.29 440.00,583.90 449.15,584.40 457.67,584.88 466.00,585.30 473.65,585.60 481.12,585.85 488.60,586.10" fill="none" stroke="#34e034" stroke-width="1.8" stroke-linejoin="round" stroke-linecap="round" />
<polyline points="119.50,546.80 120.14,545.65 120.78,544.51 121.43,543.36 122.10,542.20 122.89,540.94 123.72,539.67 124.52,538.39 125.20,537.10 125.65,535.89 125.99,534.65 126.31,533.46 126.70,532.40 127.06,531.72 127.44,531.12 127.85,530.54 128.30,529.90 128.98,528.94 129.73,527.91 130.52,526.85 131.30,525.80 132.07,524.80 132.85,523.83 133.63,522.81 134.40,521.70 135.31,520.19 136.22,518.56 137.11,516.83 138.00,515.00 139.08,512.68 140.17,510.20 141.23,507.62 142.20,505.00 143.10,502.12 143.90,499.12 144.67,496.14 145.50,493.30 146.27,490.88 147.05,488.52 147.88,486.28 148.80,484.20 149.70,482.32 150.68,480.37 151.67,478.87 152.60,478.30 153.58,479.26 154.51,481.49 155.41,484.22 156.30,486.70 157.15,488.76 157.98,490.81 158.82,492.87 159.70,495.00 160.76,497.48 161.88,500.06 163.00,502.61 164.10,505.00 164.98,506.86 165.84,508.64 166.71,510.34 167.60,512.00 168.45,513.49 169.32,514.93 170.21,516.33 171.10,517.70 171.97,518.93 172.85,520.11 173.74,521.31 174.60,522.60 175.53,524.31 176.41,526.17 177.32,527.98 178.30,529.50 179.12,530.37 179.98,531.08 180.86,531.75 181.70,532.50 182.54,533.41 183.36,534.37 184.18,535.35 185.00,536.30 185.80,537.23 186.58,538.17 187.40,539.05 188.30,539.80 189.24,540.35 190.24,540.77 191.32,541.13 192.50,541.50 194.37,542.02 196.47,542.50 198.66,542.98 200.80,543.50 202.90,544.09 205.00,544.72 207.10,545.36 209.20,546.00 211.28,546.62 213.35,547.25 215.43,547.87 217.50,548.50 219.64,549.14 221.83,549.80 223.92,550.43 225.80,551.00 226.91,551.35 227.87,551.66 228.85,551.96 230.00,552.30 232.20,552.91 234.73,553.58 237.40,554.27 240.00,554.90 242.50,555.46 245.00,555.98 247.50,556.49 250.00,557.00 252.50,557.51 255.00,558.02 257.50,558.54 260.00,559.10 262.58,559.73 265.22,560.42 267.74,561.09 270.00,561.70 271.37,562.08 272.61,562.42 273.79,562.76 275.00,563.10 276.25,563.44 277.50,563.78 278.75,564.12 280.00,564.50 281.21,564.92 282.39,565.38 283.62,565.84 285.00,566.30 287.33,566.97 289.99,567.66 292.65,568.30 295.00,568.80 296.37,569.03 297.60,569.19 298.79,569.32 300.00,569.50 301.26,569.70 302.52,569.90 303.77,570.15 305.00,570.50 306.26,571.03 307.51,571.69 308.75,572.37 310.00,573.00 311.24,573.53 312.49,574.03 313.75,574.51 315.00,575.00 316.25,575.52 317.49,576.05 318.74,576.54 320.00,576.95 321.20,577.22 322.38,577.41 323.62,577.57 325.00,577.75 327.15,578.05 329.50,578.36 332.10,578.66 335.00,578.95 340.32,579.35 346.43,579.71 353.07,580.07 360.00,580.45 369.34,581.00 379.41,581.60 389.78,582.19 400.00,582.75 410.20,583.26 420.54,583.74 430.60,584.20 440.00,584.65 446.94,585.02 453.46,585.39 459.76,585.74 466.00,586.05 471.76,586.28 477.40,586.48 482.99,586.66 488.60,586.85" fill="none" stroke="#1418b4" stroke-width="1.9" stroke-linejoin="round" stroke-linecap="round" />
<polyline points="119.50,549.90 120.40,549.12 121.30,548.33 122.19,547.56 123.10,546.80 123.98,546.07 124.87,545.35 125.77,544.66 126.70,544.00 127.70,543.40 128.75,542.84 129.79,542.29 130.80,541.70 131.76,541.09 132.70,540.45 133.60,539.79 134.40,539.10 135.02,538.48 135.57,537.83 136.07,537.17 136.50,536.50 136.79,535.89 137.01,535.27 137.22,534.64 137.50,534.00 137.92,533.23 138.41,532.43 138.94,531.64 139.50,530.90 140.10,530.21 140.74,529.56 141.41,528.92 142.10,528.30 142.86,527.67 143.65,527.07 144.44,526.46 145.20,525.80 145.90,525.05 146.54,524.26 147.22,523.46 148.00,522.70 149.13,521.83 150.41,520.96 151.74,520.20 153.00,519.60 153.97,519.27 154.93,519.03 155.85,518.88 156.70,518.80 157.25,518.79 157.75,518.83 158.25,518.90 158.80,519.00 159.71,519.16 160.73,519.35 161.75,519.65 162.70,520.10 163.63,520.87 164.47,521.85 165.30,522.93 166.20,524.00 167.36,525.27 168.60,526.61 169.86,527.90 171.10,529.00 172.10,529.68 173.10,530.23 174.08,530.76 175.00,531.40 175.90,532.25 176.76,533.22 177.56,534.17 178.30,535.00 178.76,535.46 179.17,535.85 179.57,536.24 180.00,536.70 180.57,537.47 181.14,538.35 181.77,539.24 182.50,540.00 183.37,540.64 184.32,541.17 185.41,541.64 186.70,542.10 189.71,542.81 193.45,543.39 197.34,543.95 200.80,544.60 203.06,545.19 205.15,545.82 207.16,546.46 209.20,547.10 211.28,547.72 213.35,548.35 215.43,548.97 217.50,549.60 219.64,550.24 221.83,550.90 223.92,551.53 225.80,552.10 226.91,552.45 227.87,552.76 228.85,553.06 230.00,553.40 232.20,554.01 234.73,554.68 237.40,555.37 240.00,556.00 242.50,556.56 245.00,557.08 247.50,557.59 250.00,558.10 252.50,558.61 255.00,559.12 257.50,559.64 260.00,560.20 262.58,560.83 265.22,561.52 267.74,562.19 270.00,562.80 271.37,563.18 272.61,563.52 273.79,563.86 275.00,564.20 276.25,564.54 277.50,564.88 278.75,565.22 280.00,565.60 281.21,566.02 282.39,566.48 283.62,566.94 285.00,567.40 287.33,568.07 289.99,568.76 292.65,569.40 295.00,569.90 296.37,570.13 297.60,570.29 298.79,570.42 300.00,570.60 301.26,570.80 302.52,571.00 303.77,571.25 305.00,571.60 306.26,572.13 307.51,572.79 308.75,573.47 310.00,574.10 311.24,574.64 312.49,575.16 313.74,575.64 315.00,576.10 316.24,576.52 317.49,576.92 318.74,577.28 320.00,577.60 321.20,577.85 322.39,578.04 323.63,578.21 325.00,578.40 327.15,578.70 329.50,579.01 332.10,579.31 335.00,579.60 340.32,580.00 346.43,580.36 353.07,580.72 360.00,581.10 369.34,581.65 379.41,582.25 389.78,582.84 400.00,583.40 410.20,583.91 420.54,584.39 430.60,584.85 440.00,585.30 446.94,585.67 453.46,586.04 459.76,586.39 466.00,586.70 471.76,586.93 477.40,587.13 482.99,587.31 488.60,587.50" fill="none" stroke="#7e24cc" stroke-width="1.8" stroke-linejoin="round" stroke-linecap="round" />
<rect x="119.5" y="413.0" width="373.0" height="308.0" fill="none" stroke="#262626" stroke-width="1.3"/>
<line x1="156.80" y1="721.00" x2="156.80" y2="716.50" stroke="#1a1a1a" stroke-width="1.1" stroke-linecap="butt"/>
<line x1="156.80" y1="413.00" x2="156.80" y2="417.50" stroke="#1a1a1a" stroke-width="1.1" stroke-linecap="butt"/>
<line x1="194.10" y1="721.00" x2="194.10" y2="716.50" stroke="#1a1a1a" stroke-width="1.1" stroke-linecap="butt"/>
<line x1="194.10" y1="413.00" x2="194.10" y2="417.50" stroke="#1a1a1a" stroke-width="1.1" stroke-linecap="butt"/>
<line x1="231.40" y1="721.00" x2="231.40" y2="716.50" stroke="#1a1a1a" stroke-width="1.1" stroke-linecap="butt"/>
<line x1="231.40" y1="413.00" x2="231.40" y2="417.50" stroke="#1a1a1a" stroke-width="1.1" stroke-linecap="butt"/>
<line x1="268.70" y1="721.00" x2="268.70" y2="716.50" stroke="#1a1a1a" stroke-width="1.1" stroke-linecap="butt"/>
<line x1="268.70" y1="413.00" x2="268.70" y2="417.50" stroke="#1a1a1a" stroke-width="1.1" stroke-linecap="butt"/>
<line x1="306.00" y1="721.00" x2="306.00" y2="716.50" stroke="#1a1a1a" stroke-width="1.1" stroke-linecap="butt"/>
<line x1="306.00" y1="413.00" x2="306.00" y2="417.50" stroke="#1a1a1a" stroke-width="1.1" stroke-linecap="butt"/>
<line x1="343.30" y1="721.00" x2="343.30" y2="716.50" stroke="#1a1a1a" stroke-width="1.1" stroke-linecap="butt"/>
<line x1="343.30" y1="413.00" x2="343.30" y2="417.50" stroke="#1a1a1a" stroke-width="1.1" stroke-linecap="butt"/>
<line x1="380.60" y1="721.00" x2="380.60" y2="716.50" stroke="#1a1a1a" stroke-width="1.1" stroke-linecap="butt"/>
<line x1="380.60" y1="413.00" x2="380.60" y2="417.50" stroke="#1a1a1a" stroke-width="1.1" stroke-linecap="butt"/>
<line x1="417.90" y1="721.00" x2="417.90" y2="716.50" stroke="#1a1a1a" stroke-width="1.1" stroke-linecap="butt"/>
<line x1="417.90" y1="413.00" x2="417.90" y2="417.50" stroke="#1a1a1a" stroke-width="1.1" stroke-linecap="butt"/>
<line x1="455.20" y1="721.00" x2="455.20" y2="716.50" stroke="#1a1a1a" stroke-width="1.1" stroke-linecap="butt"/>
<line x1="455.20" y1="413.00" x2="455.20" y2="417.50" stroke="#1a1a1a" stroke-width="1.1" stroke-linecap="butt"/>
<text x="126.70" y="744.50" font-family="Liberation Sans" font-size="17" text-anchor="middle" >0.0</text>
<text x="164.00" y="744.50" font-family="Liberation Sans" font-size="17" text-anchor="middle" >0.2</text>
<text x="201.30" y="744.50" font-family="Liberation Sans" font-size="17" text-anchor="middle" >0.4</text>
<text x="238.60" y="744.50" font-family="Liberation Sans" font-size="17" text-anchor="middle" >0.6</text>
<text x="275.90" y="744.50" font-family="Liberation Sans" font-size="17" text-anchor="middle" >0.8</text>
<text x="313.20" y="744.50" font-family="Liberation Sans" font-size="17" text-anchor="middle" >1.0</text>
<text x="350.50" y="744.50" font-family="Liberation Sans" font-size="17" text-anchor="middle" >1.2</text>
<text x="387.80" y="744.50" font-family="Liberation Sans" font-size="17" text-anchor="middle" >1.4</text>
<text x="425.10" y="744.50" font-family="Liberation Sans" font-size="17" text-anchor="middle" >1.6</text>
<text x="462.40" y="744.50" font-family="Liberation Sans" font-size="17" text-anchor="middle" >1.8</text>
<text x="499.70" y="744.50" font-family="Liberation Sans" font-size="17" text-anchor="middle" >2.0</text>
<text x="108.60" y="419.10" font-family="Liberation Sans" font-size="17" text-anchor="end" >100.0</text>
<line x1="119.50" y1="474.60" x2="124.00" y2="474.60" stroke="#1a1a1a" stroke-width="1.1" stroke-linecap="butt"/>
<text x="108.60" y="480.70" font-family="Liberation Sans" font-size="17" text-anchor="end" >10.0</text>
<line x1="119.50" y1="536.20" x2="124.00" y2="536.20" stroke="#1a1a1a" stroke-width="1.1" stroke-linecap="butt"/>
<text x="108.60" y="542.30" font-family="Liberation Sans" font-size="17" text-anchor="end" >1.0</text>
<line x1="119.50" y1="597.80" x2="124.00" y2="597.80" stroke="#1a1a1a" stroke-width="1.1" stroke-linecap="butt"/>
<text x="108.60" y="603.90" font-family="Liberation Sans" font-size="17" text-anchor="end" >0.1</text>
<line x1="119.50" y1="659.40" x2="124.00" y2="659.40" stroke="#1a1a1a" stroke-width="1.1" stroke-linecap="butt"/>
<text x="108.60" y="665.50" font-family="Liberation Sans" font-size="17" text-anchor="end" >0.0</text>
<text x="108.60" y="727.10" font-family="Liberation Sans" font-size="17" text-anchor="end" >0.0</text>
<text x="517.50" y="419.10" font-family="Liberation Sans" font-size="17" text-anchor="start" >2.0</text>
<line x1="492.50" y1="443.80" x2="487.50" y2="443.80" stroke="#1a1a1a" stroke-width="1.1" stroke-linecap="butt"/>
<text x="517.50" y="449.90" font-family="Liberation Sans" font-size="17" text-anchor="start" >1.8</text>
<line x1="492.50" y1="474.60" x2="487.50" y2="474.60" stroke="#1a1a1a" stroke-width="1.1" stroke-linecap="butt"/>
<text x="517.50" y="480.70" font-family="Liberation Sans" font-size="17" text-anchor="start" >1.6</text>
<line x1="492.50" y1="505.40" x2="487.50" y2="505.40" stroke="#1a1a1a" stroke-width="1.1" stroke-linecap="butt"/>
<text x="517.50" y="511.50" font-family="Liberation Sans" font-size="17" text-anchor="start" >1.4</text>
<line x1="492.50" y1="536.20" x2="487.50" y2="536.20" stroke="#1a1a1a" stroke-width="1.1" stroke-linecap="butt"/>
<text x="517.50" y="542.30" font-family="Liberation Sans" font-size="17" text-anchor="start" >1.2</text>
<line x1="492.50" y1="567.00" x2="487.50" y2="567.00" stroke="#1a1a1a" stroke-width="1.1" stroke-linecap="butt"/>
<text x="517.50" y="573.10" font-family="Liberation Sans" font-size="17" text-anchor="start" >1.0</text>
<line x1="492.50" y1="597.80" x2="487.50" y2="597.80" stroke="#1a1a1a" stroke-width="1.1" stroke-linecap="butt"/>
<text x="517.50" y="603.90" font-family="Liberation Sans" font-size="17" text-anchor="start" >0.8</text>
<line x1="492.50" y1="628.60" x2="487.50" y2="628.60" stroke="#1a1a1a" stroke-width="1.1" stroke-linecap="butt"/>
<text x="517.50" y="634.70" font-family="Liberation Sans" font-size="17" text-anchor="start" >0.6</text>
<line x1="492.50" y1="659.40" x2="487.50" y2="659.40" stroke="#1a1a1a" stroke-width="1.1" stroke-linecap="butt"/>
<text x="517.50" y="665.50" font-family="Liberation Sans" font-size="17" text-anchor="start" >0.4</text>
<line x1="492.50" y1="690.20" x2="487.50" y2="690.20" stroke="#1a1a1a" stroke-width="1.1" stroke-linecap="butt"/>
<text x="517.50" y="696.30" font-family="Liberation Sans" font-size="17" text-anchor="start" >0.2</text>
<text x="517.50" y="727.10" font-family="Liberation Sans" font-size="17" text-anchor="start" >0.0</text>
<line x1="153.30" y1="478.00" x2="209.20" y2="502.50" stroke="#000" stroke-width="1.5" stroke-linecap="round"/>
<line x1="156.70" y1="521.30" x2="182.50" y2="585.00" stroke="#000" stroke-width="1.5" stroke-linecap="round"/>
<text x="142.20" y="448.40" font-family="Liberation Serif" font-size="21" text-anchor="start" font-style="italic" >M</text>
<circle cx="154.5" cy="432.6" r="1.4" fill="#000"/>
<text x="162.20" y="448.20" font-family="Liberation Sans" font-size="15.5" text-anchor="start" stroke="#000" stroke-width="0.25">@</text>
<text x="183.00" y="448.40" font-family="Liberation Sans" font-size="17.5" text-anchor="start" >r=60km</text>
<text x="220.00" y="516.70" font-family="Liberation Serif" font-size="21" text-anchor="start" font-style="italic" >M</text>
<circle cx="232.3" cy="500.8" r="1.4" fill="#000"/>
<text x="241.40" y="516.50" font-family="Liberation Sans" font-size="15.5" text-anchor="start" stroke="#000" stroke-width="0.25">@</text>
<text x="261.50" y="516.70" font-family="Liberation Sans" font-size="17.5" text-anchor="start" >r=250km</text>
<text x="194.30" y="599.20" font-family="Liberation Serif" font-size="21" text-anchor="start" font-style="italic" >M</text>
<circle cx="206.6" cy="583.3" r="1.4" fill="#000"/>
<text x="214.60" y="599.00" font-family="Liberation Sans" font-size="15.5" text-anchor="start" stroke="#000" stroke-width="0.25">@</text>
<text x="235.70" y="599.20" font-family="Liberation Sans" font-size="17.5" text-anchor="start" >r=500km</text>
<text x="366.50" y="449.00" font-family="Liberation Serif" font-size="22" text-anchor="start" font-style="italic" >M</text>
<text x="385.00" y="456.50" font-family="Liberation Serif" font-size="18.5" text-anchor="start" font-style="italic" >PNS</text>
<text x="287.50" y="771.30" font-family="Liberation Serif" font-size="24" text-anchor="start" font-style="italic" >t</text>
<text x="294.00" y="776.70" font-family="Liberation Sans" font-size="15" text-anchor="start" >e</text>
<text x="311.80" y="770.60" font-family="Liberation Sans" font-size="16" text-anchor="start" letter-spacing="0.6">[s]</text>
<g transform="translate(39,398.20) rotate(-90)">
<text x="-207.30" y="0.00" font-family="Liberation Serif" font-size="25" text-anchor="start" font-style="italic" >M</text>
<text x="-176.50" y="0.00" font-family="Liberation Sans" font-size="17" text-anchor="start" >[M</text>
<text x="-145.30" y="0.00" font-family="Liberation Sans" font-size="16.5" text-anchor="start" letter-spacing="1">/s]</text>
</g>
<circle cx="15" cy="591.30" r="1.5" fill="#000"/>
<circle cx="40.9" cy="549.00" r="4.4" fill="none" stroke="#000" stroke-width="0.9"/>
<circle cx="40.9" cy="549.00" r="0.9" fill="#000"/>
<g transform="translate(589,0) rotate(-90)">
<text x="-609.50" y="0.00" font-family="Liberation Serif" font-size="17" text-anchor="start" font-style="italic" >M</text>
<text x="-594.20" y="5.00" font-family="Liberation Sans" font-size="13.6" text-anchor="start" >PNS</text>
<text x="-555.80" y="0.00" font-family="Liberation Sans" font-size="17" text-anchor="start" >[M</text>
<text x="-525.00" y="0.00" font-family="Liberation Sans" font-size="17" text-anchor="start" >]</text>
</g>
<circle cx="591.1" cy="530.6" r="4.3" fill="none" stroke="#000" stroke-width="0.9"/>
<circle cx="591.1" cy="530.6" r="0.9" fill="#000"/>
</svg>
</body></html>
